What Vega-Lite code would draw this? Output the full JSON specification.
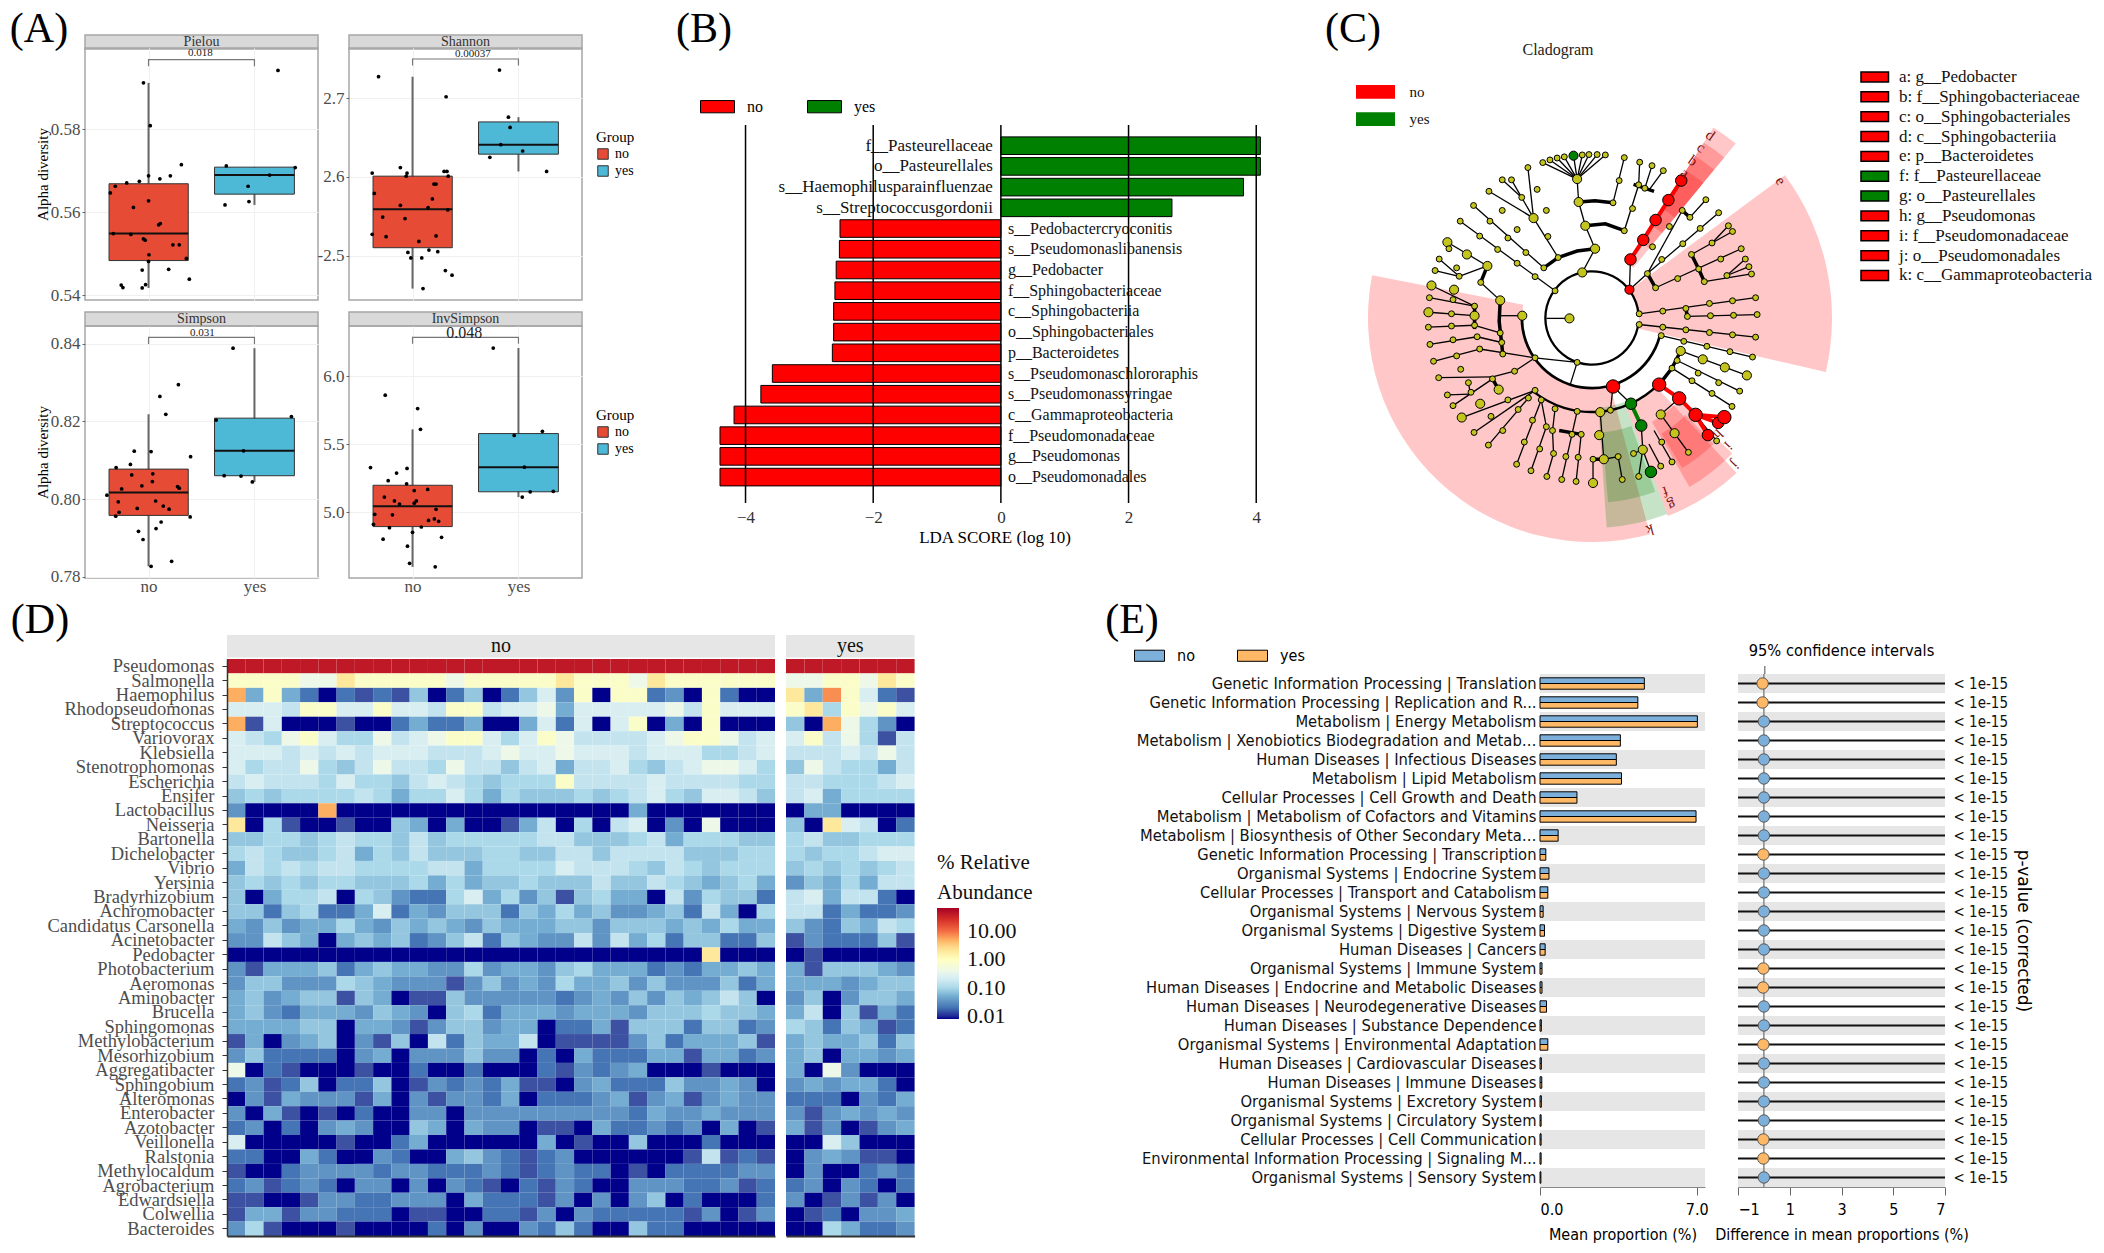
{"$schema":"https://vega.github.io/schema/vega-lite/v6.json","autosize":"none","padding":{"left":0,"top":0,"right":2104,"bottom":1253},"background":"white","config":{"font":"Liberation Serif","view":{"stroke":null},"axis":{"grid":false}},
"datasets":{
"box":[{"f":"Pielou","g":"no","c":1,"xl":0.627,"xr":1.375,"lo":0.5418,"q1":0.5484,"med":0.5549,"q3":0.5669,"hi":0.5912},{"f":"Pielou","g":"yes","c":2,"xl":1.623,"xr":2.377,"lo":0.5618,"q1":0.5644,"med":0.569,"q3":0.5709,"hi":0.5709},
{"f":"Shannon","g":"no","c":1,"xl":0.627,"xr":1.375,"lo":2.458,"q1":2.51,"med":2.559,"q3":2.601,"hi":2.7275},{"f":"Shannon","g":"yes","c":2,"xl":1.623,"xr":2.377,"lo":2.607,"q1":2.629,"med":2.641,"q3":2.67,"hi":2.676},
{"f":"Simpson","g":"no","c":1,"xl":0.627,"xr":1.375,"lo":0.7827,"q1":0.7958,"med":0.8017,"q3":0.8077,"hi":0.8218},{"f":"Simpson","g":"yes","c":2,"xl":1.623,"xr":2.377,"lo":0.8044,"q1":0.806,"med":0.8124,"q3":0.8208,"hi":0.8388},
{"f":"InvSimpson","g":"no","c":1,"xl":0.627,"xr":1.375,"lo":4.597,"q1":4.893,"med":5.042,"q3":5.197,"hi":5.608},{"f":"InvSimpson","g":"yes","c":2,"xl":1.623,"xr":2.377,"lo":5.11,"q1":5.149,"med":5.33,"q3":5.577,"hi":6.206}],
"pts":[{"f":"Pielou","x":0.952,"v":0.5912},{"f":"Pielou","x":1.016,"v":0.5809},{"f":"Pielou","x":1.31,"v":0.5715},{"f":"Pielou","x":1.206,"v":0.5688},{"f":"Pielou","x":1.0,"v":0.5688},{"f":"Pielou","x":1.107,"v":0.5681},{"f":"Pielou","x":0.913,"v":0.5675},{"f":"Pielou","x":0.794,"v":0.5671},{"f":"Pielou","x":0.686,"v":0.5663},{"f":"Pielou","x":0.639,"v":0.5647},{"f":"Pielou","x":1.0,"v":0.5628},{"f":"Pielou","x":0.857,"v":0.5612},{"f":"Pielou","x":1.111,"v":0.5573},{"f":"Pielou","x":1.095,"v":0.557},{"f":"Pielou","x":0.667,"v":0.5549},{"f":"Pielou","x":0.833,"v":0.5547},{"f":"Pielou","x":0.952,"v":0.5536},{"f":"Pielou","x":0.968,"v":0.5533},{"f":"Pielou","x":1.23,"v":0.5522},{"f":"Pielou","x":1.29,"v":0.5522},{"f":"Pielou","x":1.004,"v":0.5498},{"f":"Pielou","x":1.357,"v":0.5489},{"f":"Pielou","x":1.0,"v":0.5482},{"f":"Pielou","x":0.94,"v":0.5461},{"f":"Pielou","x":1.19,"v":0.5463},{"f":"Pielou","x":1.385,"v":0.5439},{"f":"Pielou","x":0.972,"v":0.5426},{"f":"Pielou","x":0.742,"v":0.5425},{"f":"Pielou","x":0.758,"v":0.5419},{"f":"Pielou","x":0.94,"v":0.5418},{"f":"Pielou","x":2.222,"v":0.5942},{"f":"Pielou","x":1.734,"v":0.5712},{"f":"Pielou","x":2.385,"v":0.5708},{"f":"Pielou","x":2.143,"v":0.569},{"f":"Pielou","x":1.94,"v":0.5663},{"f":"Pielou","x":1.722,"v":0.5618},{"f":"Pielou","x":1.948,"v":0.5626},
{"f":"Shannon","x":0.679,"v":2.7275},{"f":"Shannon","x":1.317,"v":2.702},{"f":"Shannon","x":0.619,"v":2.605},{"f":"Shannon","x":0.885,"v":2.612},{"f":"Shannon","x":0.948,"v":2.605},{"f":"Shannon","x":0.94,"v":2.601},{"f":"Shannon","x":1.298,"v":2.607},{"f":"Shannon","x":1.325,"v":2.607},{"f":"Shannon","x":1.337,"v":2.601},{"f":"Shannon","x":1.202,"v":2.591},{"f":"Shannon","x":1.222,"v":2.591},{"f":"Shannon","x":0.639,"v":2.579},{"f":"Shannon","x":1.187,"v":2.572},{"f":"Shannon","x":0.885,"v":2.564},{"f":"Shannon","x":1.147,"v":2.561},{"f":"Shannon","x":1.333,"v":2.558},{"f":"Shannon","x":0.718,"v":2.549},{"f":"Shannon","x":0.929,"v":2.547},{"f":"Shannon","x":0.619,"v":2.527},{"f":"Shannon","x":0.75,"v":2.524},{"f":"Shannon","x":1.222,"v":2.525},{"f":"Shannon","x":1.06,"v":2.518},{"f":"Shannon","x":0.956,"v":2.504},{"f":"Shannon","x":1.155,"v":2.507},{"f":"Shannon","x":1.238,"v":2.505},{"f":"Shannon","x":0.984,"v":2.497},{"f":"Shannon","x":1.087,"v":2.497},{"f":"Shannon","x":1.31,"v":2.481},{"f":"Shannon","x":1.373,"v":2.475},{"f":"Shannon","x":1.099,"v":2.458},{"f":"Shannon","x":1.821,"v":2.736},{"f":"Shannon","x":1.905,"v":2.676},{"f":"Shannon","x":1.921,"v":2.663},{"f":"Shannon","x":1.833,"v":2.641},{"f":"Shannon","x":2.04,"v":2.633},{"f":"Shannon","x":1.73,"v":2.625},{"f":"Shannon","x":2.266,"v":2.607},
{"f":"Simpson","x":1.282,"v":0.8294},{"f":"Simpson","x":1.107,"v":0.8264},{"f":"Simpson","x":1.163,"v":0.8218},{"f":"Simpson","x":0.865,"v":0.8123},{"f":"Simpson","x":1.024,"v":0.8122},{"f":"Simpson","x":1.397,"v":0.8109},{"f":"Simpson","x":0.829,"v":0.8089},{"f":"Simpson","x":0.694,"v":0.8081},{"f":"Simpson","x":0.841,"v":0.8062},{"f":"Simpson","x":1.04,"v":0.8065},{"f":"Simpson","x":1.036,"v":0.8045},{"f":"Simpson","x":0.937,"v":0.8034},{"f":"Simpson","x":1.274,"v":0.8032},{"f":"Simpson","x":1.29,"v":0.8028},{"f":"Simpson","x":0.746,"v":0.8026},{"f":"Simpson","x":0.607,"v":0.801},{"f":"Simpson","x":0.714,"v":0.7993},{"f":"Simpson","x":1.067,"v":0.7995},{"f":"Simpson","x":1.139,"v":0.7982},{"f":"Simpson","x":1.194,"v":0.7974},{"f":"Simpson","x":0.893,"v":0.7976},{"f":"Simpson","x":0.722,"v":0.7966},{"f":"Simpson","x":0.69,"v":0.7956},{"f":"Simpson","x":1.393,"v":0.7954},{"f":"Simpson","x":1.119,"v":0.7941},{"f":"Simpson","x":1.071,"v":0.7924},{"f":"Simpson","x":0.905,"v":0.7917},{"f":"Simpson","x":0.948,"v":0.7896},{"f":"Simpson","x":1.218,"v":0.784},{"f":"Simpson","x":1.024,"v":0.7827},{"f":"Simpson","x":1.798,"v":0.8388},{"f":"Simpson","x":2.349,"v":0.8212},{"f":"Simpson","x":1.639,"v":0.8203},{"f":"Simpson","x":1.897,"v":0.8124},{"f":"Simpson","x":1.714,"v":0.806},{"f":"Simpson","x":1.873,"v":0.8059},{"f":"Simpson","x":1.98,"v":0.8044},
{"f":"InvSimpson","x":0.742,"v":5.859},{"f":"InvSimpson","x":1.048,"v":5.761},{"f":"InvSimpson","x":1.075,"v":5.608},{"f":"InvSimpson","x":0.603,"v":5.327},{"f":"InvSimpson","x":0.948,"v":5.321},{"f":"InvSimpson","x":0.849,"v":5.287},{"f":"InvSimpson","x":0.77,"v":5.231},{"f":"InvSimpson","x":0.944,"v":5.208},{"f":"InvSimpson","x":1.016,"v":5.158},{"f":"InvSimpson","x":1.143,"v":5.166},{"f":"InvSimpson","x":0.734,"v":5.11},{"f":"InvSimpson","x":1.036,"v":5.082},{"f":"InvSimpson","x":1.016,"v":5.065},{"f":"InvSimpson","x":0.829,"v":5.082},{"f":"InvSimpson","x":0.877,"v":5.059},{"f":"InvSimpson","x":1.222,"v":5.02},{"f":"InvSimpson","x":0.81,"v":4.98},{"f":"InvSimpson","x":0.643,"v":4.983},{"f":"InvSimpson","x":0.631,"v":4.91},{"f":"InvSimpson","x":1.206,"v":4.949},{"f":"InvSimpson","x":1.151,"v":4.938},{"f":"InvSimpson","x":1.246,"v":4.932},{"f":"InvSimpson","x":1.083,"v":4.89},{"f":"InvSimpson","x":0.782,"v":4.885},{"f":"InvSimpson","x":1.0,"v":4.851},{"f":"InvSimpson","x":1.274,"v":4.814},{"f":"InvSimpson","x":0.722,"v":4.8},{"f":"InvSimpson","x":0.952,"v":4.749},{"f":"InvSimpson","x":0.972,"v":4.623},{"f":"InvSimpson","x":1.214,"v":4.597},{"f":"InvSimpson","x":1.762,"v":6.206},{"f":"InvSimpson","x":2.226,"v":5.594},{"f":"InvSimpson","x":1.96,"v":5.563},{"f":"InvSimpson","x":2.056,"v":5.33},{"f":"InvSimpson","x":2.329,"v":5.152},{"f":"InvSimpson","x":2.111,"v":5.149},{"f":"InvSimpson","x":2.036,"v":5.11}],
"brk":[{"f":"Pielou","o":1,"x":1,"v":0.5952},{"f":"Pielou","o":2,"x":1,"v":0.5968},{"f":"Pielou","o":3,"x":2,"v":0.5968},{"f":"Pielou","o":4,"x":2,"v":0.5952},{"f":"Shannon","o":1,"x":1,"v":2.7416},{"f":"Shannon","o":2,"x":1,"v":2.75},{"f":"Shannon","o":3,"x":2,"v":2.75},{"f":"Shannon","o":4,"x":2,"v":2.7416},{"f":"Simpson","o":1,"x":1,"v":0.8399},{"f":"Simpson","o":2,"x":1,"v":0.8416},{"f":"Simpson","o":3,"x":2,"v":0.8416},{"f":"Simpson","o":4,"x":2,"v":0.8399},{"f":"InvSimpson","o":1,"x":1,"v":6.237},{"f":"InvSimpson","o":2,"x":1,"v":6.285},{"f":"InvSimpson","o":3,"x":2,"v":6.285},{"f":"InvSimpson","o":4,"x":2,"v":6.237}],
"pv":[{"f":"Pielou","x":1.49,"v":0.5983,"p":"0.018"},{"f":"Shannon","x":1.57,"v":2.756,"p":"0.00037"},{"f":"Simpson","x":1.508,"v":0.8426,"p":"0.031"},{"f":"InvSimpson","x":1.488,"v":6.318,"p":"0.048"}],
"lda":[{"n":"f__Pasteurellaceae","v":4.065,"g":"yes"},{"n":"o__Pasteurellales","v":4.065,"g":"yes"},{"n":"s__Haemophilusparainfluenzae","v":3.8,"g":"yes"},{"n":"s__Streptococcusgordonii","v":2.68,"g":"yes"},{"n":"s__Pedobactercryoconitis","v":-2.52,"g":"no"},{"n":"s__Pseudomonaslibanensis","v":-2.53,"g":"no"},{"n":"g__Pedobacter","v":-2.58,"g":"no"},{"n":"f__Sphingobacteriaceae","v":-2.6,"g":"no"},{"n":"c__Sphingobacteriia","v":-2.62,"g":"no"},{"n":"o__Sphingobacteriales","v":-2.62,"g":"no"},{"n":"p__Bacteroidetes","v":-2.64,"g":"no"},{"n":"s__Pseudomonaschlororaphis","v":-3.58,"g":"no"},{"n":"s__Pseudomonassyringae","v":-3.76,"g":"no"},{"n":"c__Gammaproteobacteria","v":-4.18,"g":"no"},{"n":"f__Pseudomonadaceae","v":-4.4,"g":"no"},{"n":"g__Pseudomonas","v":-4.4,"g":"no"},{"n":"o__Pseudomonadales","v":-4.4,"g":"no"}],
"sect":[{"t1":165,"t2":281,"r1":70,"r2":224,"g":"no"},{"t1":53.5,"t2":103,"r1":47,"r2":240,"g":"no"},{"t1":137,"t2":159,"r1":95,"r2":212,"g":"no"},{"t1":134,"t2":150,"r1":120,"r2":195,"g":"no"},{"t1":136,"t2":149,"r1":135,"r2":175,"g":"no"},{"t1":32.5,"t2":39.5,"r1":65,"r2":226,"g":"no"},{"t1":32.5,"t2":39.5,"r1":90,"r2":208,"g":"no"},{"t1":32.5,"t2":39.5,"r1":110,"r2":192,"g":"no"},{"t1":32.5,"t2":39.5,"r1":130,"r2":175,"g":"no"},{"t1":159,"t2":176,"r1":90,"r2":210,"g":"yes"},{"t1":160,"t2":175,"r1":115,"r2":185,"g":"yes"}],
"rings":[{"t1":95,"t2":445,"r1":45.5,"r2":47.8},{"t1":105,"t2":272,"r1":68.8,"r2":71.5},{"t1":135,"t2":218,"r1":92.8,"r2":95.2}],
"thick":[{"b":1,"x":475,"y":700},{"b":1,"x":503,"y":673},{"b":1,"x":540,"y":656},{"b":1,"x":575,"y":650},{"b":2,"x":543,"y":528},{"b":2,"x":575,"y":525},{"b":2,"x":610,"y":530},{"b":3,"x":556,"y":590},{"b":3,"x":595,"y":585},{"b":3,"x":632,"y":603},{"b":4,"x":650,"y":482},{"b":4,"x":690,"y":500},{"b":5,"x":745,"y":550},{"b":5,"x":760,"y":568},{"b":6,"x":677,"y":715},{"b":6,"x":693,"y":752},{"b":7,"x":763,"y":665},{"b":7,"x":777,"y":703},{"b":7,"x":788,"y":736},{"b":8,"x":752,"y":806},{"b":8,"x":755,"y":827},{"b":9,"x":700,"y":1005},{"b":9,"x":725,"y":962},{"b":9,"x":742,"y":917},{"b":10,"x":571,"y":1200},{"b":10,"x":592,"y":1200},{"b":11,"x":505,"y":1125},{"b":11,"x":548,"y":1135},{"b":12,"x":375,"y":990},{"b":12,"x":387,"y":1018},{"b":13,"x":340,"y":800},{"b":13,"x":340,"y":825},{"b":13,"x":340,"y":860},{"b":14,"x":390,"y":785},{"b":14,"x":388,"y":840},{"b":14,"x":393,"y":900},{"b":14,"x":395,"y":925},{"b":15,"x":352,"y":738},{"b":15,"x":365,"y":695}],
"chain":[{"b":1,"x":644,"y":678,"g":"no"},{"b":1,"x":669,"y":627,"g":"no"},{"b":1,"x":693,"y":575,"g":"no"},{"b":1,"x":718,"y":523,"g":"no"},{"b":1,"x":743,"y":472,"g":"no"},{"b":2,"x":700,"y":1005,"g":"no"},{"b":2,"x":739,"y":1041,"g":"no"},{"b":2,"x":771,"y":1084,"g":"no"},{"b":2,"x":795,"y":1137,"g":"no"},{"b":3,"x":771,"y":1084,"g":"no"},{"b":3,"x":815,"y":1105,"g":"no"},{"b":4,"x":771,"y":1084,"g":"no"},{"b":4,"x":827,"y":1090,"g":"no"},{"b":5,"x":645,"y":1055,"g":"yes"},{"b":5,"x":665,"y":1112,"g":"yes"}],
"nodes":[{"x":550,"y":712,"a":2,"g":"o"},{"x":575,"y":650,"a":2,"g":"o"},{"x":556,"y":590,"a":2,"g":"o"},{"x":543,"y":528,"a":2,"g":"o"},{"x":540,"y":468,"a":2,"g":"o"},{"x":473,"y":425,"a":1,"g":"o"},{"x":487,"y":418,"a":1,"g":"o"},{"x":501,"y":413,"a":1,"g":"o"},{"x":515,"y":410,"a":1,"g":"o"},{"x":533,"y":407,"a":2,"g":"yes"},{"x":550,"y":405,"a":1,"g":"o"},{"x":563,"y":404,"a":1,"g":"o"},{"x":579,"y":404,"a":1,"g":"o"},{"x":595,"y":405,"a":1,"g":"o"},{"x":610,"y":530,"a":1,"g":"o"},{"x":622,"y":472,"a":1,"g":"o"},{"x":632,"y":412,"a":1,"g":"o"},{"x":632,"y":603,"a":1,"g":"o"},{"x":648,"y":545,"a":1,"g":"o"},{"x":660,"y":483,"a":1,"g":"o"},{"x":662,"y":424,"a":1,"g":"o"},{"x":672,"y":492,"a":1,"g":"o"},{"x":686,"y":433,"a":1,"g":"o"},{"x":708,"y":446,"a":1,"g":"o"},{"x":644,"y":678,"a":3,"g":"no"},{"x":669,"y":627,"a":3,"g":"no"},{"x":693,"y":575,"a":3,"g":"no"},{"x":718,"y":523,"a":3,"g":"no"},{"x":743,"y":472,"a":3,"g":"no"},{"x":677,"y":715,"a":1,"g":"o"},{"x":687,"y":645,"a":1,"g":"o"},{"x":720,"y":592,"a":1,"g":"o"},{"x":745,"y":550,"a":1,"g":"o"},{"x":760,"y":568,"a":1,"g":"o"},{"x":791,"y":522,"a":1,"g":"o"},{"x":705,"y":678,"a":1,"g":"o"},{"x":746,"y":637,"a":1,"g":"o"},{"x":780,"y":597,"a":1,"g":"o"},{"x":816,"y":556,"a":1,"g":"o"},{"x":693,"y":752,"a":1,"g":"o"},{"x":736,"y":728,"a":1,"g":"o"},{"x":777,"y":703,"a":1,"g":"o"},{"x":820,"y":677,"a":1,"g":"o"},{"x":860,"y":650,"a":1,"g":"o"},{"x":788,"y":736,"a":1,"g":"o"},{"x":832,"y":720,"a":1,"g":"o"},{"x":880,"y":716,"a":1,"g":"o"},{"x":868,"y":677,"a":1,"g":"o"},{"x":875,"y":697,"a":1,"g":"o"},{"x":763,"y":665,"a":1,"g":"o"},{"x":803,"y":635,"a":1,"g":"o"},{"x":843,"y":605,"a":1,"g":"o"},{"x":835,"y":590,"a":1,"g":"o"},{"x":661,"y":820,"a":1,"g":"o"},{"x":707,"y":813,"a":1,"g":"o"},{"x":752,"y":806,"a":1,"g":"o"},{"x":798,"y":793,"a":1,"g":"o"},{"x":843,"y":786,"a":1,"g":"o"},{"x":888,"y":778,"a":1,"g":"o"},{"x":755,"y":827,"a":1,"g":"o"},{"x":800,"y":825,"a":1,"g":"o"},{"x":845,"y":824,"a":1,"g":"o"},{"x":891,"y":822,"a":1,"g":"o"},{"x":661,"y":848,"a":1,"g":"o"},{"x":707,"y":855,"a":1,"g":"o"},{"x":752,"y":862,"a":1,"g":"o"},{"x":798,"y":869,"a":1,"g":"o"},{"x":843,"y":875,"a":1,"g":"o"},{"x":888,"y":881,"a":1,"g":"o"},{"x":704,"y":877,"a":1,"g":"o"},{"x":748,"y":892,"a":1,"g":"o"},{"x":793,"y":905,"a":1,"g":"o"},{"x":838,"y":919,"a":1,"g":"o"},{"x":882,"y":933,"a":1,"g":"o"},{"x":742,"y":917,"a":2,"g":"o"},{"x":785,"y":939,"a":2,"g":"o"},{"x":828,"y":960,"a":2,"g":"o"},{"x":871,"y":981,"a":2,"g":"o"},{"x":725,"y":962,"a":1,"g":"o"},{"x":735,"y":942,"a":1,"g":"o"},{"x":776,"y":975,"a":1,"g":"o"},{"x":816,"y":1000,"a":1,"g":"o"},{"x":857,"y":1022,"a":1,"g":"o"},{"x":764,"y":995,"a":1,"g":"o"},{"x":803,"y":1028,"a":1,"g":"o"},{"x":842,"y":1062,"a":1,"g":"o"},{"x":610,"y":1010,"a":4,"g":"no"},{"x":700,"y":1005,"a":4,"g":"no"},{"x":739,"y":1041,"a":4,"g":"no"},{"x":771,"y":1084,"a":4,"g":"no"},{"x":812,"y":1152,"a":1,"g":"o"},{"x":795,"y":1137,"a":3,"g":"no"},{"x":815,"y":1105,"a":3,"g":"no"},{"x":827,"y":1090,"a":4,"g":"no"},{"x":703,"y":1083,"a":2,"g":"o"},{"x":730,"y":1132,"a":2,"g":"o"},{"x":757,"y":1182,"a":1,"g":"o"},{"x":645,"y":1055,"a":3,"g":"yes"},{"x":665,"y":1112,"a":3,"g":"yes"},{"x":668,"y":1175,"a":2,"g":"o"},{"x":684,"y":1233,"a":3,"g":"yes"},{"x":650,"y":1185,"a":1,"g":"o"},{"x":660,"y":1245,"a":1,"g":"o"},{"x":705,"y":1155,"a":1,"g":"o"},{"x":725,"y":1207,"a":1,"g":"o"},{"x":703,"y":1218,"a":1,"g":"o"},{"x":605,"y":1072,"a":1,"g":"o"},{"x":585,"y":1077,"a":2,"g":"o"},{"x":583,"y":1137,"a":2,"g":"o"},{"x":592,"y":1200,"a":2,"g":"o"},{"x":571,"y":1200,"a":1,"g":"o"},{"x":571,"y":1262,"a":2,"g":"o"},{"x":620,"y":1193,"a":1,"g":"o"},{"x":628,"y":1253,"a":1,"g":"o"},{"x":540,"y":1075,"a":1,"g":"o"},{"x":530,"y":1135,"a":1,"g":"o"},{"x":518,"y":1193,"a":1,"g":"o"},{"x":510,"y":1253,"a":1,"g":"o"},{"x":548,"y":1135,"a":1,"g":"o"},{"x":542,"y":1195,"a":1,"g":"o"},{"x":538,"y":1258,"a":1,"g":"o"},{"x":497,"y":1068,"a":1,"g":"o"},{"x":492,"y":1125,"a":1,"g":"o"},{"x":494,"y":1185,"a":1,"g":"o"},{"x":481,"y":1245,"a":1,"g":"o"},{"x":470,"y":1045,"a":1,"g":"o"},{"x":480,"y":1115,"a":1,"g":"o"},{"x":467,"y":1173,"a":1,"g":"o"},{"x":450,"y":1230,"a":1,"g":"o"},{"x":453,"y":1098,"a":1,"g":"o"},{"x":437,"y":1155,"a":1,"g":"o"},{"x":422,"y":1213,"a":1,"g":"o"},{"x":445,"y":1040,"a":1,"g":"o"},{"x":425,"y":1070,"a":1,"g":"o"},{"x":395,"y":1125,"a":1,"g":"o"},{"x":367,"y":1163,"a":1,"g":"o"},{"x":458,"y":1020,"a":1,"g":"o"},{"x":405,"y":1045,"a":1,"g":"o"},{"x":372,"y":1088,"a":1,"g":"o"},{"x":339,"y":1130,"a":1,"g":"o"},{"x":387,"y":1018,"a":2,"g":"o"},{"x":351,"y":1055,"a":2,"g":"o"},{"x":315,"y":1091,"a":2,"g":"o"},{"x":375,"y":990,"a":1,"g":"o"},{"x":333,"y":1025,"a":1,"g":"o"},{"x":298,"y":1060,"a":1,"g":"o"},{"x":328,"y":1000,"a":1,"g":"o"},{"x":287,"y":1032,"a":1,"g":"o"},{"x":458,"y":935,"a":1,"g":"o"},{"x":418,"y":970,"a":1,"g":"o"},{"x":313,"y":965,"a":1,"g":"o"},{"x":270,"y":987,"a":1,"g":"o"},{"x":395,"y":925,"a":1,"g":"o"},{"x":350,"y":912,"a":1,"g":"o"},{"x":305,"y":930,"a":1,"g":"o"},{"x":260,"y":944,"a":1,"g":"o"},{"x":393,"y":895,"a":1,"g":"o"},{"x":345,"y":880,"a":1,"g":"o"},{"x":298,"y":888,"a":1,"g":"o"},{"x":253,"y":900,"a":1,"g":"o"},{"x":390,"y":870,"a":1,"g":"o"},{"x":340,"y":850,"a":1,"g":"o"},{"x":295,"y":852,"a":1,"g":"o"},{"x":250,"y":855,"a":1,"g":"o"},{"x":340,"y":825,"a":2,"g":"o"},{"x":295,"y":820,"a":1,"g":"o"},{"x":250,"y":816,"a":2,"g":"o"},{"x":340,"y":800,"a":1,"g":"o"},{"x":298,"y":783,"a":1,"g":"o"},{"x":252,"y":778,"a":1,"g":"o"},{"x":300,"y":757,"a":2,"g":"o"},{"x":256,"y":746,"a":2,"g":"o"},{"x":433,"y":825,"a":2,"g":"o"},{"x":390,"y":785,"a":2,"g":"o"},{"x":352,"y":738,"a":1,"g":"o"},{"x":365,"y":695,"a":2,"g":"o"},{"x":325,"y":665,"a":2,"g":"o"},{"x":287,"y":633,"a":2,"g":"o"},{"x":310,"y":722,"a":1,"g":"o"},{"x":263,"y":707,"a":1,"g":"o"},{"x":305,"y":700,"a":1,"g":"o"},{"x":271,"y":677,"a":1,"g":"o"},{"x":290,"y":650,"a":1,"g":"o"},{"x":525,"y":832,"a":2,"g":"o"},{"x":497,"y":760,"a":1,"g":"o"},{"x":458,"y":723,"a":1,"g":"o"},{"x":423,"y":688,"a":1,"g":"o"},{"x":385,"y":652,"a":1,"g":"o"},{"x":350,"y":617,"a":1,"g":"o"},{"x":312,"y":578,"a":1,"g":"o"},{"x":475,"y":700,"a":1,"g":"o"},{"x":440,"y":660,"a":1,"g":"o"},{"x":405,"y":622,"a":1,"g":"o"},{"x":370,"y":578,"a":1,"g":"o"},{"x":338,"y":537,"a":1,"g":"o"},{"x":503,"y":673,"a":1,"g":"o"},{"x":483,"y":618,"a":1,"g":"o"},{"x":455,"y":570,"a":2,"g":"o"},{"x":423,"y":600,"a":1,"g":"o"},{"x":394,"y":550,"a":1,"g":"o"},{"x":368,"y":500,"a":1,"g":"o"},{"x":480,"y":550,"a":1,"g":"o"},{"x":462,"y":495,"a":1,"g":"o"},{"x":444,"y":438,"a":1,"g":"o"},{"x":432,"y":516,"a":1,"g":"o"},{"x":412,"y":470,"a":1,"g":"o"},{"x":394,"y":470,"a":1,"g":"o"},{"x":540,"y":947,"a":1,"g":"o"},{"x":642,"y":757,"a":2,"g":"no"}],
"edges":[{"x":550,"y":712,"x2":575,"y2":650},{"x":575,"y":650,"x2":556,"y2":590},{"x":556,"y":590,"x2":543,"y2":528},{"x":543,"y":528,"x2":540,"y2":468},{"x":540,"y":468,"x2":473,"y2":425},{"x":540,"y":468,"x2":487,"y2":418},{"x":540,"y":468,"x2":501,"y2":413},{"x":540,"y":468,"x2":515,"y2":410},{"x":540,"y":468,"x2":533,"y2":407},{"x":540,"y":468,"x2":550,"y2":405},{"x":540,"y":468,"x2":563,"y2":404},{"x":540,"y":468,"x2":579,"y2":404},{"x":540,"y":468,"x2":595,"y2":405},{"x":610,"y":530,"x2":632,"y2":412},{"x":632,"y":603,"x2":660,"y2":483},{"x":660,"y":483,"x2":662,"y2":424},{"x":672,"y":492,"x2":686,"y2":433},{"x":680,"y":497,"x2":708,"y2":446},{"x":677,"y":715,"x2":745,"y2":550},{"x":760,"y":568,"x2":791,"y2":522},{"x":677,"y":715,"x2":816,"y2":556},{"x":693,"y":752,"x2":860,"y2":650},{"x":788,"y":736,"x2":880,"y2":716},{"x":832,"y":720,"x2":868,"y2":677},{"x":832,"y":720,"x2":875,"y2":697},{"x":763,"y":665,"x2":843,"y2":605},{"x":803,"y":635,"x2":835,"y2":590},{"x":661,"y":820,"x2":888,"y2":778},{"x":755,"y":827,"x2":891,"y2":822},{"x":661,"y":848,"x2":888,"y2":881},{"x":704,"y":877,"x2":882,"y2":933},{"x":742,"y":917,"x2":871,"y2":981},{"x":735,"y":942,"x2":857,"y2":1022},{"x":725,"y":962,"x2":842,"y2":1062},{"x":771,"y":1084,"x2":812,"y2":1152},{"x":739,"y":1041,"x2":703,"y2":1083},{"x":703,"y":1083,"x2":757,"y2":1182},{"x":610,"y":1010,"x2":645,"y2":1055},{"x":665,"y":1112,"x2":668,"y2":1175},{"x":668,"y":1175,"x2":684,"y2":1233},{"x":668,"y":1175,"x2":650,"y2":1185},{"x":668,"y":1175,"x2":660,"y2":1245},{"x":690,"y":1125,"x2":725,"y2":1207},{"x":680,"y":1160,"x2":703,"y2":1218},{"x":610,"y":1010,"x2":605,"y2":1072},{"x":585,"y":1077,"x2":592,"y2":1200},{"x":571,"y":1200,"x2":571,"y2":1262},{"x":592,"y":1200,"x2":620,"y2":1193},{"x":620,"y":1193,"x2":628,"y2":1253},{"x":540,"y":1075,"x2":510,"y2":1253},{"x":548,"y":1135,"x2":538,"y2":1258},{"x":497,"y":1068,"x2":492,"y2":1125},{"x":492,"y":1125,"x2":494,"y2":1185},{"x":494,"y":1185,"x2":481,"y2":1245},{"x":470,"y":1045,"x2":480,"y2":1115},{"x":480,"y":1115,"x2":450,"y2":1230},{"x":470,"y":1045,"x2":422,"y2":1213},{"x":445,"y":1040,"x2":367,"y2":1163},{"x":458,"y":1020,"x2":339,"y2":1130},{"x":458,"y":1020,"x2":315,"y2":1091},{"x":375,"y":990,"x2":298,"y2":1060},{"x":328,"y":1000,"x2":332,"y2":1030},{"x":332,"y":1030,"x2":287,"y2":1032},{"x":458,"y":935,"x2":418,"y2":970},{"x":418,"y":970,"x2":375,"y2":985},{"x":375,"y":985,"x2":270,"y2":987},{"x":458,"y":935,"x2":350,"y2":912},{"x":350,"y":912,"x2":260,"y2":944},{"x":393,"y":895,"x2":345,"y2":880},{"x":345,"y":880,"x2":253,"y2":900},{"x":390,"y":870,"x2":340,"y2":850},{"x":340,"y":850,"x2":250,"y2":855},{"x":340,"y":825,"x2":250,"y2":816},{"x":340,"y":800,"x2":252,"y2":778},{"x":340,"y":800,"x2":256,"y2":746},{"x":433,"y":825,"x2":390,"y2":825},{"x":390,"y":785,"x2":352,"y2":738},{"x":365,"y":695,"x2":287,"y2":633},{"x":365,"y":695,"x2":310,"y2":722},{"x":310,"y":722,"x2":263,"y2":707},{"x":310,"y":722,"x2":271,"y2":677},{"x":525,"y":832,"x2":480,"y2":832},{"x":497,"y":760,"x2":312,"y2":578},{"x":475,"y":700,"x2":338,"y2":537},{"x":503,"y":673,"x2":455,"y2":570},{"x":455,"y":570,"x2":368,"y2":500},{"x":455,"y":570,"x2":444,"y2":438},{"x":455,"y":570,"x2":412,"y2":470},{"x":432,"y":516,"x2":394,"y2":470},{"x":540,"y":947,"x2":527,"y2":1003},{"x":540,"y":947,"x2":458,"y2":935},{"x":642,"y":757,"x2":677,"y2":715},{"x":642,"y":757,"x2":644,"y2":678}],
"cl":[{"x":800,"y":353,"t":"d","rot":35},{"x":782,"y":385,"t":"c","rot":35},{"x":766,"y":420,"t":"b","rot":35},{"x":750,"y":452,"t":"a","rot":35},{"x":937,"y":472,"t":"e","rot":55},{"x":682,"y":1385,"t":"k","rot":165},{"x":725,"y":1320,"t":"g","rot":160},{"x":712,"y":1285,"t":"f","rot":160},{"x":835,"y":1165,"t":"i","rot":135},{"x":848,"y":1215,"t":"j","rot":135},{"x":815,"y":1135,"t":"h","rot":135}],
"legc":[{"l":"a: g__Pedobacter","g":"no"},{"l":"b: f__Sphingobacteriaceae","g":"no"},{"l":"c: o__Sphingobacteriales","g":"no"},{"l":"d: c__Sphingobacteriia","g":"no"},{"l":"e: p__Bacteroidetes","g":"no"},{"l":"f: f__Pasteurellaceae","g":"yes"},{"l":"g: o__Pasteurellales","g":"yes"},{"l":"h: g__Pseudomonas","g":"no"},{"l":"i: f__Pseudomonadaceae","g":"no"},{"l":"j: o__Pseudomonadales","g":"no"},{"l":"k: c__Gammaproteobacteria","g":"no"}],
"taxa":[{"r":0,"t":"Pseudomonas"},{"r":1,"t":"Salmonella"},{"r":2,"t":"Haemophilus"},{"r":3,"t":"Rhodopseudomonas"},{"r":4,"t":"Streptococcus"},{"r":5,"t":"Variovorax"},{"r":6,"t":"Klebsiella"},{"r":7,"t":"Stenotrophomonas"},{"r":8,"t":"Escherichia"},{"r":9,"t":"Ensifer"},{"r":10,"t":"Lactobacillus"},{"r":11,"t":"Neisseria"},{"r":12,"t":"Bartonella"},{"r":13,"t":"Dichelobacter"},{"r":14,"t":"Vibrio"},{"r":15,"t":"Yersinia"},{"r":16,"t":"Bradyrhizobium"},{"r":17,"t":"Achromobacter"},{"r":18,"t":"Candidatus Carsonella"},{"r":19,"t":"Acinetobacter"},{"r":20,"t":"Pedobacter"},{"r":21,"t":"Photobacterium"},{"r":22,"t":"Aeromonas"},{"r":23,"t":"Aminobacter"},{"r":24,"t":"Brucella"},{"r":25,"t":"Sphingomonas"},{"r":26,"t":"Methylobacterium"},{"r":27,"t":"Mesorhizobium"},{"r":28,"t":"Aggregatibacter"},{"r":29,"t":"Sphingobium"},{"r":30,"t":"Alteromonas"},{"r":31,"t":"Enterobacter"},{"r":32,"t":"Azotobacter"},{"r":33,"t":"Veillonella"},{"r":34,"t":"Ralstonia"},{"r":35,"t":"Methylocaldum"},{"r":36,"t":"Agrobacterium"},{"r":37,"t":"Edwardsiella"},{"r":38,"t":"Colwellia"},{"r":39,"t":"Bacteroides"}],
"hm":[
{"r":0,"c":0,"v":40},{"r":0,"c":1,"v":40},{"r":0,"c":2,"v":40},{"r":0,"c":3,"v":40},{"r":0,"c":4,"v":40},{"r":0,"c":5,"v":40},{"r":0,"c":6,"v":40},{"r":0,"c":7,"v":40},{"r":0,"c":8,"v":40},{"r":0,"c":9,"v":40},{"r":0,"c":10,"v":40},{"r":0,"c":11,"v":40},{"r":0,"c":12,"v":40},{"r":0,"c":13,"v":40},{"r":0,"c":14,"v":40},{"r":0,"c":15,"v":40},{"r":0,"c":16,"v":40},{"r":0,"c":17,"v":40},{"r":0,"c":18,"v":40},{"r":0,"c":19,"v":40},{"r":0,"c":20,"v":40},{"r":0,"c":21,"v":40},{"r":0,"c":22,"v":40},{"r":0,"c":23,"v":40},{"r":0,"c":24,"v":40},{"r":0,"c":25,"v":40},{"r":0,"c":26,"v":40},{"r":0,"c":27,"v":40},{"r":0,"c":28,"v":40},{"r":0,"c":29,"v":40},{"r":0,"c":30,"v":40},{"r":0,"c":31,"v":40},{"r":0,"c":32,"v":40},{"r":0,"c":33,"v":40},{"r":0,"c":34,"v":40},{"r":0,"c":35,"v":40},{"r":0,"c":36,"v":40},
{"r":1,"c":0,"v":0.8},{"r":1,"c":1,"v":0.8},{"r":1,"c":2,"v":0.8},{"r":1,"c":3,"v":0.8},{"r":1,"c":4,"v":0.4},{"r":1,"c":5,"v":0.4},{"r":1,"c":6,"v":2},{"r":1,"c":7,"v":0.8},{"r":1,"c":8,"v":0.8},{"r":1,"c":9,"v":0.8},{"r":1,"c":10,"v":0.8},{"r":1,"c":11,"v":0.8},{"r":1,"c":12,"v":0.4},{"r":1,"c":13,"v":0.8},{"r":1,"c":14,"v":0.8},{"r":1,"c":15,"v":0.8},{"r":1,"c":16,"v":0.8},{"r":1,"c":17,"v":0.8},{"r":1,"c":18,"v":2},{"r":1,"c":19,"v":0.8},{"r":1,"c":20,"v":0.8},{"r":1,"c":21,"v":0.8},{"r":1,"c":22,"v":0.4},{"r":1,"c":23,"v":2},{"r":1,"c":24,"v":0.8},{"r":1,"c":25,"v":0.8},{"r":1,"c":26,"v":0.8},{"r":1,"c":27,"v":0.8},{"r":1,"c":28,"v":0.8},{"r":1,"c":29,"v":0.8},{"r":1,"c":30,"v":0.4},{"r":1,"c":31,"v":0.4},{"r":1,"c":32,"v":0.8},{"r":1,"c":33,"v":0.8},{"r":1,"c":34,"v":0.4},{"r":1,"c":35,"v":2},{"r":1,"c":36,"v":0.8},
{"r":2,"c":0,"v":5},{"r":2,"c":1,"v":0.05},{"r":2,"c":2,"v":0.8},{"r":2,"c":3,"v":0.05},{"r":2,"c":4,"v":0.02},{"r":2,"c":5,"v":0.0078},{"r":2,"c":6,"v":0.02},{"r":2,"c":7,"v":0.013},{"r":2,"c":8,"v":0.02},{"r":2,"c":9,"v":0.013},{"r":2,"c":10,"v":0.075},{"r":2,"c":11,"v":0.0078},{"r":2,"c":12,"v":0.02},{"r":2,"c":13,"v":0.075},{"r":2,"c":14,"v":0.0078},{"r":2,"c":15,"v":0.02},{"r":2,"c":16,"v":0.075},{"r":2,"c":17,"v":0.22},{"r":2,"c":18,"v":0.033},{"r":2,"c":19,"v":0.8},{"r":2,"c":20,"v":0.0078},{"r":2,"c":21,"v":0.8},{"r":2,"c":22,"v":0.8},{"r":2,"c":23,"v":0.02},{"r":2,"c":24,"v":0.033},{"r":2,"c":25,"v":0.0078},{"r":2,"c":26,"v":0.8},{"r":2,"c":27,"v":0.02},{"r":2,"c":28,"v":0.0078},{"r":2,"c":29,"v":0.0078},{"r":2,"c":30,"v":2},{"r":2,"c":31,"v":0.05},{"r":2,"c":32,"v":7},{"r":2,"c":33,"v":0.8},{"r":2,"c":34,"v":0.22},{"r":2,"c":35,"v":0.02},{"r":2,"c":36,"v":0.013},
{"r":3,"c":0,"v":0.22},{"r":3,"c":1,"v":0.22},{"r":3,"c":2,"v":0.22},{"r":3,"c":3,"v":0.15},{"r":3,"c":4,"v":0.8},{"r":3,"c":5,"v":0.8},{"r":3,"c":6,"v":0.22},{"r":3,"c":7,"v":0.22},{"r":3,"c":8,"v":0.8},{"r":3,"c":9,"v":0.22},{"r":3,"c":10,"v":0.22},{"r":3,"c":11,"v":0.15},{"r":3,"c":12,"v":0.8},{"r":3,"c":13,"v":0.8},{"r":3,"c":14,"v":0.15},{"r":3,"c":15,"v":0.22},{"r":3,"c":16,"v":0.22},{"r":3,"c":17,"v":0.4},{"r":3,"c":18,"v":0.05},{"r":3,"c":19,"v":0.22},{"r":3,"c":20,"v":0.22},{"r":3,"c":21,"v":0.22},{"r":3,"c":22,"v":0.22},{"r":3,"c":23,"v":0.22},{"r":3,"c":24,"v":0.4},{"r":3,"c":25,"v":0.15},{"r":3,"c":26,"v":0.8},{"r":3,"c":27,"v":0.22},{"r":3,"c":28,"v":0.22},{"r":3,"c":29,"v":0.22},{"r":3,"c":30,"v":0.8},{"r":3,"c":31,"v":2},{"r":3,"c":32,"v":0.1},{"r":3,"c":33,"v":0.8},{"r":3,"c":34,"v":0.4},{"r":3,"c":35,"v":0.8},{"r":3,"c":36,"v":0.22},
{"r":4,"c":0,"v":5},{"r":4,"c":1,"v":0.013},{"r":4,"c":2,"v":0.22},{"r":4,"c":3,"v":0.0078},{"r":4,"c":4,"v":0.0078},{"r":4,"c":5,"v":0.0078},{"r":4,"c":6,"v":0.013},{"r":4,"c":7,"v":0.0078},{"r":4,"c":8,"v":0.0078},{"r":4,"c":9,"v":0.02},{"r":4,"c":10,"v":0.05},{"r":4,"c":11,"v":0.02},{"r":4,"c":12,"v":0.02},{"r":4,"c":13,"v":0.05},{"r":4,"c":14,"v":0.0078},{"r":4,"c":15,"v":0.0078},{"r":4,"c":16,"v":0.05},{"r":4,"c":17,"v":0.22},{"r":4,"c":18,"v":0.02},{"r":4,"c":19,"v":0.22},{"r":4,"c":20,"v":0.0078},{"r":4,"c":21,"v":0.22},{"r":4,"c":22,"v":0.8},{"r":4,"c":23,"v":0.0078},{"r":4,"c":24,"v":0.05},{"r":4,"c":25,"v":0.0078},{"r":4,"c":26,"v":0.8},{"r":4,"c":27,"v":0.0078},{"r":4,"c":28,"v":0.0078},{"r":4,"c":29,"v":0.0078},{"r":4,"c":30,"v":0.075},{"r":4,"c":31,"v":0.0078},{"r":4,"c":32,"v":5},{"r":4,"c":33,"v":0.4},{"r":4,"c":34,"v":0.1},{"r":4,"c":35,"v":0.033},{"r":4,"c":36,"v":0.0078},
{"r":5,"c":0,"v":0.22},{"r":5,"c":1,"v":0.15},{"r":5,"c":2,"v":0.1},{"r":5,"c":3,"v":0.4},{"r":5,"c":4,"v":0.8},{"r":5,"c":5,"v":0.22},{"r":5,"c":6,"v":0.1},{"r":5,"c":7,"v":0.1},{"r":5,"c":8,"v":0.4},{"r":5,"c":9,"v":0.15},{"r":5,"c":10,"v":0.22},{"r":5,"c":11,"v":0.4},{"r":5,"c":12,"v":0.8},{"r":5,"c":13,"v":0.8},{"r":5,"c":14,"v":0.22},{"r":5,"c":15,"v":0.1},{"r":5,"c":16,"v":0.22},{"r":5,"c":17,"v":0.8},{"r":5,"c":18,"v":0.4},{"r":5,"c":19,"v":0.15},{"r":5,"c":20,"v":0.15},{"r":5,"c":21,"v":0.15},{"r":5,"c":22,"v":0.15},{"r":5,"c":23,"v":0.22},{"r":5,"c":24,"v":0.4},{"r":5,"c":25,"v":0.8},{"r":5,"c":26,"v":0.8},{"r":5,"c":27,"v":0.4},{"r":5,"c":28,"v":0.15},{"r":5,"c":29,"v":0.22},{"r":5,"c":30,"v":0.22},{"r":5,"c":31,"v":0.8},{"r":5,"c":32,"v":0.15},{"r":5,"c":33,"v":0.4},{"r":5,"c":34,"v":0.1},{"r":5,"c":35,"v":0.013},{"r":5,"c":36,"v":0.15},
{"r":6,"c":0,"v":0.22},{"r":6,"c":1,"v":0.22},{"r":6,"c":2,"v":0.22},{"r":6,"c":3,"v":0.15},{"r":6,"c":4,"v":0.22},{"r":6,"c":5,"v":0.15},{"r":6,"c":6,"v":0.22},{"r":6,"c":7,"v":0.15},{"r":6,"c":8,"v":0.22},{"r":6,"c":9,"v":0.22},{"r":6,"c":10,"v":0.22},{"r":6,"c":11,"v":0.15},{"r":6,"c":12,"v":0.15},{"r":6,"c":13,"v":0.15},{"r":6,"c":14,"v":0.22},{"r":6,"c":15,"v":0.4},{"r":6,"c":16,"v":0.22},{"r":6,"c":17,"v":0.22},{"r":6,"c":18,"v":0.4},{"r":6,"c":19,"v":0.22},{"r":6,"c":20,"v":0.22},{"r":6,"c":21,"v":0.22},{"r":6,"c":22,"v":0.15},{"r":6,"c":23,"v":0.22},{"r":6,"c":24,"v":0.22},{"r":6,"c":25,"v":0.22},{"r":6,"c":26,"v":0.1},{"r":6,"c":27,"v":0.1},{"r":6,"c":28,"v":0.15},{"r":6,"c":29,"v":0.22},{"r":6,"c":30,"v":0.15},{"r":6,"c":31,"v":0.15},{"r":6,"c":32,"v":0.15},{"r":6,"c":33,"v":0.22},{"r":6,"c":34,"v":0.15},{"r":6,"c":35,"v":0.4},{"r":6,"c":36,"v":0.15},
{"r":7,"c":0,"v":0.22},{"r":7,"c":1,"v":0.1},{"r":7,"c":2,"v":0.15},{"r":7,"c":3,"v":0.15},{"r":7,"c":4,"v":0.4},{"r":7,"c":5,"v":0.1},{"r":7,"c":6,"v":0.075},{"r":7,"c":7,"v":0.15},{"r":7,"c":8,"v":0.4},{"r":7,"c":9,"v":0.15},{"r":7,"c":10,"v":0.15},{"r":7,"c":11,"v":0.1},{"r":7,"c":12,"v":0.4},{"r":7,"c":13,"v":0.15},{"r":7,"c":14,"v":0.15},{"r":7,"c":15,"v":0.075},{"r":7,"c":16,"v":0.15},{"r":7,"c":17,"v":0.22},{"r":7,"c":18,"v":0.05},{"r":7,"c":19,"v":0.15},{"r":7,"c":20,"v":0.15},{"r":7,"c":21,"v":0.22},{"r":7,"c":22,"v":0.1},{"r":7,"c":23,"v":0.075},{"r":7,"c":24,"v":0.15},{"r":7,"c":25,"v":0.22},{"r":7,"c":26,"v":0.4},{"r":7,"c":27,"v":0.4},{"r":7,"c":28,"v":0.22},{"r":7,"c":29,"v":0.1},{"r":7,"c":30,"v":0.075},{"r":7,"c":31,"v":0.4},{"r":7,"c":32,"v":0.15},{"r":7,"c":33,"v":0.1},{"r":7,"c":34,"v":0.1},{"r":7,"c":35,"v":0.05},{"r":7,"c":36,"v":0.15},
{"r":8,"c":0,"v":0.15},{"r":8,"c":1,"v":0.22},{"r":8,"c":2,"v":0.15},{"r":8,"c":3,"v":0.15},{"r":8,"c":4,"v":0.15},{"r":8,"c":5,"v":0.1},{"r":8,"c":6,"v":0.22},{"r":8,"c":7,"v":0.1},{"r":8,"c":8,"v":0.1},{"r":8,"c":9,"v":0.075},{"r":8,"c":10,"v":0.15},{"r":8,"c":11,"v":0.22},{"r":8,"c":12,"v":0.15},{"r":8,"c":13,"v":0.1},{"r":8,"c":14,"v":0.075},{"r":8,"c":15,"v":0.1},{"r":8,"c":16,"v":0.1},{"r":8,"c":17,"v":0.1},{"r":8,"c":18,"v":0.8},{"r":8,"c":19,"v":0.15},{"r":8,"c":20,"v":0.15},{"r":8,"c":21,"v":0.15},{"r":8,"c":22,"v":0.15},{"r":8,"c":23,"v":0.22},{"r":8,"c":24,"v":0.15},{"r":8,"c":25,"v":0.15},{"r":8,"c":26,"v":0.15},{"r":8,"c":27,"v":0.15},{"r":8,"c":28,"v":0.1},{"r":8,"c":29,"v":0.1},{"r":8,"c":30,"v":0.15},{"r":8,"c":31,"v":0.15},{"r":8,"c":32,"v":0.1},{"r":8,"c":33,"v":0.1},{"r":8,"c":34,"v":0.1},{"r":8,"c":35,"v":0.15},{"r":8,"c":36,"v":0.22},
{"r":9,"c":0,"v":0.075},{"r":9,"c":1,"v":0.1},{"r":9,"c":2,"v":0.075},{"r":9,"c":3,"v":0.1},{"r":9,"c":4,"v":0.1},{"r":9,"c":5,"v":0.1},{"r":9,"c":6,"v":0.1},{"r":9,"c":7,"v":0.15},{"r":9,"c":8,"v":0.1},{"r":9,"c":9,"v":0.05},{"r":9,"c":10,"v":0.1},{"r":9,"c":11,"v":0.1},{"r":9,"c":12,"v":0.22},{"r":9,"c":13,"v":0.1},{"r":9,"c":14,"v":0.05},{"r":9,"c":15,"v":0.1},{"r":9,"c":16,"v":0.075},{"r":9,"c":17,"v":0.075},{"r":9,"c":18,"v":0.075},{"r":9,"c":19,"v":0.1},{"r":9,"c":20,"v":0.075},{"r":9,"c":21,"v":0.1},{"r":9,"c":22,"v":0.15},{"r":9,"c":23,"v":0.22},{"r":9,"c":24,"v":0.1},{"r":9,"c":25,"v":0.075},{"r":9,"c":26,"v":0.22},{"r":9,"c":27,"v":0.22},{"r":9,"c":28,"v":0.15},{"r":9,"c":29,"v":0.075},{"r":9,"c":30,"v":0.15},{"r":9,"c":31,"v":0.22},{"r":9,"c":32,"v":0.05},{"r":9,"c":33,"v":0.1},{"r":9,"c":34,"v":0.1},{"r":9,"c":35,"v":0.1},{"r":9,"c":36,"v":0.1},
{"r":10,"c":0,"v":0.033},{"r":10,"c":1,"v":0.0078},{"r":10,"c":2,"v":0.0078},{"r":10,"c":3,"v":0.0078},{"r":10,"c":4,"v":0.0078},{"r":10,"c":5,"v":5},{"r":10,"c":6,"v":0.0078},{"r":10,"c":7,"v":0.0078},{"r":10,"c":8,"v":0.0078},{"r":10,"c":9,"v":0.0078},{"r":10,"c":10,"v":0.0078},{"r":10,"c":11,"v":0.0078},{"r":10,"c":12,"v":0.0078},{"r":10,"c":13,"v":0.0078},{"r":10,"c":14,"v":0.0078},{"r":10,"c":15,"v":0.0078},{"r":10,"c":16,"v":0.0078},{"r":10,"c":17,"v":0.0078},{"r":10,"c":18,"v":0.0078},{"r":10,"c":19,"v":0.0078},{"r":10,"c":20,"v":0.0078},{"r":10,"c":21,"v":0.0078},{"r":10,"c":22,"v":0.05},{"r":10,"c":23,"v":0.0078},{"r":10,"c":24,"v":0.0078},{"r":10,"c":25,"v":0.0078},{"r":10,"c":26,"v":0.0078},{"r":10,"c":27,"v":0.0078},{"r":10,"c":28,"v":0.0078},{"r":10,"c":29,"v":0.0078},{"r":10,"c":30,"v":0.0078},{"r":10,"c":31,"v":0.05},{"r":10,"c":32,"v":0.05},{"r":10,"c":33,"v":0.0078},{"r":10,"c":34,"v":0.0078},{"r":10,"c":35,"v":0.0078},{"r":10,"c":36,"v":0.0078},
{"r":11,"c":0,"v":2},{"r":11,"c":1,"v":0.0078},{"r":11,"c":2,"v":0.1},{"r":11,"c":3,"v":0.013},{"r":11,"c":4,"v":0.0078},{"r":11,"c":5,"v":0.0078},{"r":11,"c":6,"v":0.013},{"r":11,"c":7,"v":0.0078},{"r":11,"c":8,"v":0.0078},{"r":11,"c":9,"v":0.075},{"r":11,"c":10,"v":0.05},{"r":11,"c":11,"v":0.0078},{"r":11,"c":12,"v":0.05},{"r":11,"c":13,"v":0.0078},{"r":11,"c":14,"v":0.0078},{"r":11,"c":15,"v":0.013},{"r":11,"c":16,"v":0.05},{"r":11,"c":17,"v":0.15},{"r":11,"c":18,"v":0.0078},{"r":11,"c":19,"v":0.1},{"r":11,"c":20,"v":0.0078},{"r":11,"c":21,"v":0.15},{"r":11,"c":22,"v":0.22},{"r":11,"c":23,"v":0.0078},{"r":11,"c":24,"v":0.033},{"r":11,"c":25,"v":0.0078},{"r":11,"c":26,"v":0.4},{"r":11,"c":27,"v":0.0078},{"r":11,"c":28,"v":0.0078},{"r":11,"c":29,"v":0.0078},{"r":11,"c":30,"v":0.075},{"r":11,"c":31,"v":0.0078},{"r":11,"c":32,"v":2},{"r":11,"c":33,"v":0.22},{"r":11,"c":34,"v":0.15},{"r":11,"c":35,"v":0.0078},{"r":11,"c":36,"v":0.02},
{"r":12,"c":0,"v":0.075},{"r":12,"c":1,"v":0.075},{"r":12,"c":2,"v":0.1},{"r":12,"c":3,"v":0.1},{"r":12,"c":4,"v":0.075},{"r":12,"c":5,"v":0.1},{"r":12,"c":6,"v":0.15},{"r":12,"c":7,"v":0.1},{"r":12,"c":8,"v":0.1},{"r":12,"c":9,"v":0.075},{"r":12,"c":10,"v":0.15},{"r":12,"c":11,"v":0.075},{"r":12,"c":12,"v":0.1},{"r":12,"c":13,"v":0.1},{"r":12,"c":14,"v":0.1},{"r":12,"c":15,"v":0.1},{"r":12,"c":16,"v":0.1},{"r":12,"c":17,"v":0.15},{"r":12,"c":18,"v":0.15},{"r":12,"c":19,"v":0.075},{"r":12,"c":20,"v":0.075},{"r":12,"c":21,"v":0.075},{"r":12,"c":22,"v":0.1},{"r":12,"c":23,"v":0.15},{"r":12,"c":24,"v":0.05},{"r":12,"c":25,"v":0.1},{"r":12,"c":26,"v":0.1},{"r":12,"c":27,"v":0.1},{"r":12,"c":28,"v":0.075},{"r":12,"c":29,"v":0.075},{"r":12,"c":30,"v":0.1},{"r":12,"c":31,"v":0.15},{"r":12,"c":32,"v":0.075},{"r":12,"c":33,"v":0.075},{"r":12,"c":34,"v":0.1},{"r":12,"c":35,"v":0.1},{"r":12,"c":36,"v":0.1},
{"r":13,"c":0,"v":0.1},{"r":13,"c":1,"v":0.15},{"r":13,"c":2,"v":0.1},{"r":13,"c":3,"v":0.075},{"r":13,"c":4,"v":0.075},{"r":13,"c":5,"v":0.1},{"r":13,"c":6,"v":0.15},{"r":13,"c":7,"v":0.05},{"r":13,"c":8,"v":0.1},{"r":13,"c":9,"v":0.075},{"r":13,"c":10,"v":0.15},{"r":13,"c":11,"v":0.075},{"r":13,"c":12,"v":0.075},{"r":13,"c":13,"v":0.075},{"r":13,"c":14,"v":0.1},{"r":13,"c":15,"v":0.1},{"r":13,"c":16,"v":0.075},{"r":13,"c":17,"v":0.075},{"r":13,"c":18,"v":0.15},{"r":13,"c":19,"v":0.15},{"r":13,"c":20,"v":0.075},{"r":13,"c":21,"v":0.15},{"r":13,"c":22,"v":0.15},{"r":13,"c":23,"v":0.15},{"r":13,"c":24,"v":0.15},{"r":13,"c":25,"v":0.075},{"r":13,"c":26,"v":0.075},{"r":13,"c":27,"v":0.075},{"r":13,"c":28,"v":0.1},{"r":13,"c":29,"v":0.1},{"r":13,"c":30,"v":0.1},{"r":13,"c":31,"v":0.075},{"r":13,"c":32,"v":0.1},{"r":13,"c":33,"v":0.1},{"r":13,"c":34,"v":0.15},{"r":13,"c":35,"v":0.22},{"r":13,"c":36,"v":0.22},
{"r":14,"c":0,"v":0.05},{"r":14,"c":1,"v":0.15},{"r":14,"c":2,"v":0.1},{"r":14,"c":3,"v":0.15},{"r":14,"c":4,"v":0.1},{"r":14,"c":5,"v":0.15},{"r":14,"c":6,"v":0.15},{"r":14,"c":7,"v":0.1},{"r":14,"c":8,"v":0.1},{"r":14,"c":9,"v":0.1},{"r":14,"c":10,"v":0.1},{"r":14,"c":11,"v":0.15},{"r":14,"c":12,"v":0.15},{"r":14,"c":13,"v":0.05},{"r":14,"c":14,"v":0.1},{"r":14,"c":15,"v":0.1},{"r":14,"c":16,"v":0.1},{"r":14,"c":17,"v":0.1},{"r":14,"c":18,"v":0.22},{"r":14,"c":19,"v":0.15},{"r":14,"c":20,"v":0.15},{"r":14,"c":21,"v":0.15},{"r":14,"c":22,"v":0.1},{"r":14,"c":23,"v":0.075},{"r":14,"c":24,"v":0.15},{"r":14,"c":25,"v":0.1},{"r":14,"c":26,"v":0.075},{"r":14,"c":27,"v":0.1},{"r":14,"c":28,"v":0.1},{"r":14,"c":29,"v":0.1},{"r":14,"c":30,"v":0.075},{"r":14,"c":31,"v":0.1},{"r":14,"c":32,"v":0.075},{"r":14,"c":33,"v":0.1},{"r":14,"c":34,"v":0.075},{"r":14,"c":35,"v":0.1},{"r":14,"c":36,"v":0.15},
{"r":15,"c":0,"v":0.075},{"r":15,"c":1,"v":0.1},{"r":15,"c":2,"v":0.075},{"r":15,"c":3,"v":0.1},{"r":15,"c":4,"v":0.075},{"r":15,"c":5,"v":0.1},{"r":15,"c":6,"v":0.1},{"r":15,"c":7,"v":0.075},{"r":15,"c":8,"v":0.075},{"r":15,"c":9,"v":0.075},{"r":15,"c":10,"v":0.1},{"r":15,"c":11,"v":0.05},{"r":15,"c":12,"v":0.1},{"r":15,"c":13,"v":0.05},{"r":15,"c":14,"v":0.075},{"r":15,"c":15,"v":0.075},{"r":15,"c":16,"v":0.1},{"r":15,"c":17,"v":0.075},{"r":15,"c":18,"v":0.075},{"r":15,"c":19,"v":0.075},{"r":15,"c":20,"v":0.15},{"r":15,"c":21,"v":0.075},{"r":15,"c":22,"v":0.075},{"r":15,"c":23,"v":0.15},{"r":15,"c":24,"v":0.1},{"r":15,"c":25,"v":0.075},{"r":15,"c":26,"v":0.05},{"r":15,"c":27,"v":0.075},{"r":15,"c":28,"v":0.1},{"r":15,"c":29,"v":0.05},{"r":15,"c":30,"v":0.033},{"r":15,"c":31,"v":0.075},{"r":15,"c":32,"v":0.05},{"r":15,"c":33,"v":0.1},{"r":15,"c":34,"v":0.05},{"r":15,"c":35,"v":0.15},{"r":15,"c":36,"v":0.15},
{"r":16,"c":0,"v":0.075},{"r":16,"c":1,"v":0.0078},{"r":16,"c":2,"v":0.05},{"r":16,"c":3,"v":0.1},{"r":16,"c":4,"v":0.1},{"r":16,"c":5,"v":0.15},{"r":16,"c":6,"v":0.0078},{"r":16,"c":7,"v":0.1},{"r":16,"c":8,"v":0.075},{"r":16,"c":9,"v":0.033},{"r":16,"c":10,"v":0.02},{"r":16,"c":11,"v":0.02},{"r":16,"c":12,"v":0.1},{"r":16,"c":13,"v":0.22},{"r":16,"c":14,"v":0.05},{"r":16,"c":15,"v":0.1},{"r":16,"c":16,"v":0.033},{"r":16,"c":17,"v":0.075},{"r":16,"c":18,"v":0.013},{"r":16,"c":19,"v":0.075},{"r":16,"c":20,"v":0.1},{"r":16,"c":21,"v":0.05},{"r":16,"c":22,"v":0.05},{"r":16,"c":23,"v":0.0078},{"r":16,"c":24,"v":0.15},{"r":16,"c":25,"v":0.033},{"r":16,"c":26,"v":0.1},{"r":16,"c":27,"v":0.075},{"r":16,"c":28,"v":0.075},{"r":16,"c":29,"v":0.02},{"r":16,"c":30,"v":0.15},{"r":16,"c":31,"v":0.22},{"r":16,"c":32,"v":0.05},{"r":16,"c":33,"v":0.15},{"r":16,"c":34,"v":0.15},{"r":16,"c":35,"v":0.02},{"r":16,"c":36,"v":0.0078},
{"r":17,"c":0,"v":0.075},{"r":17,"c":1,"v":0.075},{"r":17,"c":2,"v":0.02},{"r":17,"c":3,"v":0.075},{"r":17,"c":4,"v":0.1},{"r":17,"c":5,"v":0.02},{"r":17,"c":6,"v":0.02},{"r":17,"c":7,"v":0.05},{"r":17,"c":8,"v":0.22},{"r":17,"c":9,"v":0.02},{"r":17,"c":10,"v":0.05},{"r":17,"c":11,"v":0.033},{"r":17,"c":12,"v":0.075},{"r":17,"c":13,"v":0.075},{"r":17,"c":14,"v":0.075},{"r":17,"c":15,"v":0.02},{"r":17,"c":16,"v":0.075},{"r":17,"c":17,"v":0.05},{"r":17,"c":18,"v":0.1},{"r":17,"c":19,"v":0.05},{"r":17,"c":20,"v":0.075},{"r":17,"c":21,"v":0.033},{"r":17,"c":22,"v":0.033},{"r":17,"c":23,"v":0.05},{"r":17,"c":24,"v":0.075},{"r":17,"c":25,"v":0.02},{"r":17,"c":26,"v":0.15},{"r":17,"c":27,"v":0.05},{"r":17,"c":28,"v":0.0078},{"r":17,"c":29,"v":0.1},{"r":17,"c":30,"v":0.15},{"r":17,"c":31,"v":0.15},{"r":17,"c":32,"v":0.02},{"r":17,"c":33,"v":0.05},{"r":17,"c":34,"v":0.02},{"r":17,"c":35,"v":0.02},{"r":17,"c":36,"v":0.033},
{"r":18,"c":0,"v":0.05},{"r":18,"c":1,"v":0.033},{"r":18,"c":2,"v":0.075},{"r":18,"c":3,"v":0.033},{"r":18,"c":4,"v":0.05},{"r":18,"c":5,"v":0.05},{"r":18,"c":6,"v":0.1},{"r":18,"c":7,"v":0.05},{"r":18,"c":8,"v":0.033},{"r":18,"c":9,"v":0.075},{"r":18,"c":10,"v":0.05},{"r":18,"c":11,"v":0.075},{"r":18,"c":12,"v":0.05},{"r":18,"c":13,"v":0.033},{"r":18,"c":14,"v":0.075},{"r":18,"c":15,"v":0.05},{"r":18,"c":16,"v":0.05},{"r":18,"c":17,"v":0.05},{"r":18,"c":18,"v":0.075},{"r":18,"c":19,"v":0.075},{"r":18,"c":20,"v":0.033},{"r":18,"c":21,"v":0.075},{"r":18,"c":22,"v":0.075},{"r":18,"c":23,"v":0.075},{"r":18,"c":24,"v":0.05},{"r":18,"c":25,"v":0.075},{"r":18,"c":26,"v":0.05},{"r":18,"c":27,"v":0.1},{"r":18,"c":28,"v":0.05},{"r":18,"c":29,"v":0.05},{"r":18,"c":30,"v":0.075},{"r":18,"c":31,"v":0.033},{"r":18,"c":32,"v":0.02},{"r":18,"c":33,"v":0.075},{"r":18,"c":34,"v":0.05},{"r":18,"c":35,"v":0.15},{"r":18,"c":36,"v":0.1},
{"r":19,"c":0,"v":0.033},{"r":19,"c":1,"v":0.033},{"r":19,"c":2,"v":0.15},{"r":19,"c":3,"v":0.075},{"r":19,"c":4,"v":0.05},{"r":19,"c":5,"v":0.0078},{"r":19,"c":6,"v":0.05},{"r":19,"c":7,"v":0.075},{"r":19,"c":8,"v":0.05},{"r":19,"c":9,"v":0.075},{"r":19,"c":10,"v":0.02},{"r":19,"c":11,"v":0.033},{"r":19,"c":12,"v":0.075},{"r":19,"c":13,"v":0.15},{"r":19,"c":14,"v":0.02},{"r":19,"c":15,"v":0.075},{"r":19,"c":16,"v":0.05},{"r":19,"c":17,"v":0.033},{"r":19,"c":18,"v":0.033},{"r":19,"c":19,"v":0.15},{"r":19,"c":20,"v":0.033},{"r":19,"c":21,"v":0.15},{"r":19,"c":22,"v":0.05},{"r":19,"c":23,"v":0.1},{"r":19,"c":24,"v":0.02},{"r":19,"c":25,"v":0.075},{"r":19,"c":26,"v":0.075},{"r":19,"c":27,"v":0.02},{"r":19,"c":28,"v":0.02},{"r":19,"c":29,"v":0.075},{"r":19,"c":30,"v":0.013},{"r":19,"c":31,"v":0.033},{"r":19,"c":32,"v":0.02},{"r":19,"c":33,"v":0.02},{"r":19,"c":34,"v":0.02},{"r":19,"c":35,"v":0.075},{"r":19,"c":36,"v":0.013},
{"r":20,"c":0,"v":0.0078},{"r":20,"c":1,"v":0.0078},{"r":20,"c":2,"v":0.0078},{"r":20,"c":3,"v":0.0078},{"r":20,"c":4,"v":0.0078},{"r":20,"c":5,"v":0.0078},{"r":20,"c":6,"v":0.0078},{"r":20,"c":7,"v":0.0078},{"r":20,"c":8,"v":0.0078},{"r":20,"c":9,"v":0.0078},{"r":20,"c":10,"v":0.0078},{"r":20,"c":11,"v":0.0078},{"r":20,"c":12,"v":0.0078},{"r":20,"c":13,"v":0.0078},{"r":20,"c":14,"v":0.0078},{"r":20,"c":15,"v":0.0078},{"r":20,"c":16,"v":0.0078},{"r":20,"c":17,"v":0.0078},{"r":20,"c":18,"v":0.0078},{"r":20,"c":19,"v":0.0078},{"r":20,"c":20,"v":0.0078},{"r":20,"c":21,"v":0.0078},{"r":20,"c":22,"v":0.0078},{"r":20,"c":23,"v":0.0078},{"r":20,"c":24,"v":0.0078},{"r":20,"c":25,"v":0.0078},{"r":20,"c":26,"v":2},{"r":20,"c":27,"v":0.0078},{"r":20,"c":28,"v":0.0078},{"r":20,"c":29,"v":0.0078},{"r":20,"c":30,"v":0.0078},{"r":20,"c":31,"v":0.013},{"r":20,"c":32,"v":0.0078},{"r":20,"c":33,"v":0.0078},{"r":20,"c":34,"v":0.0078},{"r":20,"c":35,"v":0.0078},{"r":20,"c":36,"v":0.0078},
{"r":21,"c":0,"v":0.033},{"r":21,"c":1,"v":0.013},{"r":21,"c":2,"v":0.05},{"r":21,"c":3,"v":0.05},{"r":21,"c":4,"v":0.05},{"r":21,"c":5,"v":0.075},{"r":21,"c":6,"v":0.02},{"r":21,"c":7,"v":0.05},{"r":21,"c":8,"v":0.075},{"r":21,"c":9,"v":0.05},{"r":21,"c":10,"v":0.05},{"r":21,"c":11,"v":0.033},{"r":21,"c":12,"v":0.033},{"r":21,"c":13,"v":0.1},{"r":21,"c":14,"v":0.033},{"r":21,"c":15,"v":0.05},{"r":21,"c":16,"v":0.05},{"r":21,"c":17,"v":0.033},{"r":21,"c":18,"v":0.075},{"r":21,"c":19,"v":0.1},{"r":21,"c":20,"v":0.05},{"r":21,"c":21,"v":0.05},{"r":21,"c":22,"v":0.05},{"r":21,"c":23,"v":0.02},{"r":21,"c":24,"v":0.033},{"r":21,"c":25,"v":0.02},{"r":21,"c":26,"v":0.05},{"r":21,"c":27,"v":0.05},{"r":21,"c":28,"v":0.075},{"r":21,"c":29,"v":0.05},{"r":21,"c":30,"v":0.05},{"r":21,"c":31,"v":0.013},{"r":21,"c":32,"v":0.075},{"r":21,"c":33,"v":0.075},{"r":21,"c":34,"v":0.075},{"r":21,"c":35,"v":0.05},{"r":21,"c":36,"v":0.033},
{"r":22,"c":0,"v":0.033},{"r":22,"c":1,"v":0.075},{"r":22,"c":2,"v":0.075},{"r":22,"c":3,"v":0.033},{"r":22,"c":4,"v":0.033},{"r":22,"c":5,"v":0.033},{"r":22,"c":6,"v":0.1},{"r":22,"c":7,"v":0.075},{"r":22,"c":8,"v":0.05},{"r":22,"c":9,"v":0.033},{"r":22,"c":10,"v":0.033},{"r":22,"c":11,"v":0.033},{"r":22,"c":12,"v":0.013},{"r":22,"c":13,"v":0.033},{"r":22,"c":14,"v":0.075},{"r":22,"c":15,"v":0.033},{"r":22,"c":16,"v":0.05},{"r":22,"c":17,"v":0.033},{"r":22,"c":18,"v":0.1},{"r":22,"c":19,"v":0.05},{"r":22,"c":20,"v":0.05},{"r":22,"c":21,"v":0.075},{"r":22,"c":22,"v":0.033},{"r":22,"c":23,"v":0.075},{"r":22,"c":24,"v":0.033},{"r":22,"c":25,"v":0.033},{"r":22,"c":26,"v":0.033},{"r":22,"c":27,"v":0.075},{"r":22,"c":28,"v":0.02},{"r":22,"c":29,"v":0.05},{"r":22,"c":30,"v":0.05},{"r":22,"c":31,"v":0.05},{"r":22,"c":32,"v":0.05},{"r":22,"c":33,"v":0.033},{"r":22,"c":34,"v":0.05},{"r":22,"c":35,"v":0.075},{"r":22,"c":36,"v":0.075},
{"r":23,"c":0,"v":0.05},{"r":23,"c":1,"v":0.075},{"r":23,"c":2,"v":0.033},{"r":23,"c":3,"v":0.05},{"r":23,"c":4,"v":0.075},{"r":23,"c":5,"v":0.075},{"r":23,"c":6,"v":0.013},{"r":23,"c":7,"v":0.075},{"r":23,"c":8,"v":0.05},{"r":23,"c":9,"v":0.0078},{"r":23,"c":10,"v":0.013},{"r":23,"c":11,"v":0.013},{"r":23,"c":12,"v":0.075},{"r":23,"c":13,"v":0.033},{"r":23,"c":14,"v":0.033},{"r":23,"c":15,"v":0.033},{"r":23,"c":16,"v":0.033},{"r":23,"c":17,"v":0.033},{"r":23,"c":18,"v":0.02},{"r":23,"c":19,"v":0.033},{"r":23,"c":20,"v":0.05},{"r":23,"c":21,"v":0.033},{"r":23,"c":22,"v":0.075},{"r":23,"c":23,"v":0.033},{"r":23,"c":24,"v":0.075},{"r":23,"c":25,"v":0.05},{"r":23,"c":26,"v":0.075},{"r":23,"c":27,"v":0.15},{"r":23,"c":28,"v":0.075},{"r":23,"c":29,"v":0.0078},{"r":23,"c":30,"v":0.033},{"r":23,"c":31,"v":0.075},{"r":23,"c":32,"v":0.0078},{"r":23,"c":33,"v":0.033},{"r":23,"c":34,"v":0.075},{"r":23,"c":35,"v":0.075},{"r":23,"c":36,"v":0.05},
{"r":24,"c":0,"v":0.05},{"r":24,"c":1,"v":0.075},{"r":24,"c":2,"v":0.033},{"r":24,"c":3,"v":0.02},{"r":24,"c":4,"v":0.05},{"r":24,"c":5,"v":0.05},{"r":24,"c":6,"v":0.05},{"r":24,"c":7,"v":0.033},{"r":24,"c":8,"v":0.075},{"r":24,"c":9,"v":0.05},{"r":24,"c":10,"v":0.033},{"r":24,"c":11,"v":0.0078},{"r":24,"c":12,"v":0.075},{"r":24,"c":13,"v":0.1},{"r":24,"c":14,"v":0.02},{"r":24,"c":15,"v":0.05},{"r":24,"c":16,"v":0.05},{"r":24,"c":17,"v":0.05},{"r":24,"c":18,"v":0.033},{"r":24,"c":19,"v":0.05},{"r":24,"c":20,"v":0.05},{"r":24,"c":21,"v":0.05},{"r":24,"c":22,"v":0.033},{"r":24,"c":23,"v":0.075},{"r":24,"c":24,"v":0.075},{"r":24,"c":25,"v":0.075},{"r":24,"c":26,"v":0.1},{"r":24,"c":27,"v":0.075},{"r":24,"c":28,"v":0.075},{"r":24,"c":29,"v":0.05},{"r":24,"c":30,"v":0.05},{"r":24,"c":31,"v":0.15},{"r":24,"c":32,"v":0.0078},{"r":24,"c":33,"v":0.075},{"r":24,"c":34,"v":0.013},{"r":24,"c":35,"v":0.05},{"r":24,"c":36,"v":0.02},
{"r":25,"c":0,"v":0.05},{"r":25,"c":1,"v":0.05},{"r":25,"c":2,"v":0.05},{"r":25,"c":3,"v":0.05},{"r":25,"c":4,"v":0.075},{"r":25,"c":5,"v":0.075},{"r":25,"c":6,"v":0.0078},{"r":25,"c":7,"v":0.05},{"r":25,"c":8,"v":0.05},{"r":25,"c":9,"v":0.033},{"r":25,"c":10,"v":0.013},{"r":25,"c":11,"v":0.033},{"r":25,"c":12,"v":0.075},{"r":25,"c":13,"v":0.075},{"r":25,"c":14,"v":0.033},{"r":25,"c":15,"v":0.05},{"r":25,"c":16,"v":0.05},{"r":25,"c":17,"v":0.0078},{"r":25,"c":18,"v":0.02},{"r":25,"c":19,"v":0.02},{"r":25,"c":20,"v":0.05},{"r":25,"c":21,"v":0.013},{"r":25,"c":22,"v":0.075},{"r":25,"c":23,"v":0.075},{"r":25,"c":24,"v":0.075},{"r":25,"c":25,"v":0.02},{"r":25,"c":26,"v":0.075},{"r":25,"c":27,"v":0.075},{"r":25,"c":28,"v":0.02},{"r":25,"c":29,"v":0.033},{"r":25,"c":30,"v":0.1},{"r":25,"c":31,"v":0.075},{"r":25,"c":32,"v":0.02},{"r":25,"c":33,"v":0.075},{"r":25,"c":34,"v":0.05},{"r":25,"c":35,"v":0.013},{"r":25,"c":36,"v":0.02},
{"r":26,"c":0,"v":0.013},{"r":26,"c":1,"v":0.05},{"r":26,"c":2,"v":0.0078},{"r":26,"c":3,"v":0.033},{"r":26,"c":4,"v":0.05},{"r":26,"c":5,"v":0.075},{"r":26,"c":6,"v":0.0078},{"r":26,"c":7,"v":0.033},{"r":26,"c":8,"v":0.013},{"r":26,"c":9,"v":0.075},{"r":26,"c":10,"v":0.0078},{"r":26,"c":11,"v":0.15},{"r":26,"c":12,"v":0.02},{"r":26,"c":13,"v":0.075},{"r":26,"c":14,"v":0.05},{"r":26,"c":15,"v":0.05},{"r":26,"c":16,"v":0.15},{"r":26,"c":17,"v":0.0078},{"r":26,"c":18,"v":0.013},{"r":26,"c":19,"v":0.013},{"r":26,"c":20,"v":0.013},{"r":26,"c":21,"v":0.013},{"r":26,"c":22,"v":0.033},{"r":26,"c":23,"v":0.075},{"r":26,"c":24,"v":0.02},{"r":26,"c":25,"v":0.05},{"r":26,"c":26,"v":0.05},{"r":26,"c":27,"v":0.05},{"r":26,"c":28,"v":0.075},{"r":26,"c":29,"v":0.013},{"r":26,"c":30,"v":0.05},{"r":26,"c":31,"v":0.075},{"r":26,"c":32,"v":0.05},{"r":26,"c":33,"v":0.05},{"r":26,"c":34,"v":0.075},{"r":26,"c":35,"v":0.02},{"r":26,"c":36,"v":0.075},
{"r":27,"c":0,"v":0.033},{"r":27,"c":1,"v":0.075},{"r":27,"c":2,"v":0.02},{"r":27,"c":3,"v":0.02},{"r":27,"c":4,"v":0.02},{"r":27,"c":5,"v":0.02},{"r":27,"c":6,"v":0.0078},{"r":27,"c":7,"v":0.033},{"r":27,"c":8,"v":0.05},{"r":27,"c":9,"v":0.0078},{"r":27,"c":10,"v":0.033},{"r":27,"c":11,"v":0.033},{"r":27,"c":12,"v":0.033},{"r":27,"c":13,"v":0.075},{"r":27,"c":14,"v":0.033},{"r":27,"c":15,"v":0.033},{"r":27,"c":16,"v":0.0078},{"r":27,"c":17,"v":0.02},{"r":27,"c":18,"v":0.0078},{"r":27,"c":19,"v":0.05},{"r":27,"c":20,"v":0.02},{"r":27,"c":21,"v":0.02},{"r":27,"c":22,"v":0.02},{"r":27,"c":23,"v":0.05},{"r":27,"c":24,"v":0.05},{"r":27,"c":25,"v":0.013},{"r":27,"c":26,"v":0.05},{"r":27,"c":27,"v":0.05},{"r":27,"c":28,"v":0.02},{"r":27,"c":29,"v":0.033},{"r":27,"c":30,"v":0.05},{"r":27,"c":31,"v":0.075},{"r":27,"c":32,"v":0.0078},{"r":27,"c":33,"v":0.05},{"r":27,"c":34,"v":0.05},{"r":27,"c":35,"v":0.033},{"r":27,"c":36,"v":0.05},
{"r":28,"c":0,"v":0.4},{"r":28,"c":1,"v":0.0078},{"r":28,"c":2,"v":0.02},{"r":28,"c":3,"v":0.013},{"r":28,"c":4,"v":0.0078},{"r":28,"c":5,"v":0.0078},{"r":28,"c":6,"v":0.0078},{"r":28,"c":7,"v":0.013},{"r":28,"c":8,"v":0.0078},{"r":28,"c":9,"v":0.0078},{"r":28,"c":10,"v":0.02},{"r":28,"c":11,"v":0.0078},{"r":28,"c":12,"v":0.0078},{"r":28,"c":13,"v":0.02},{"r":28,"c":14,"v":0.0078},{"r":28,"c":15,"v":0.0078},{"r":28,"c":16,"v":0.0078},{"r":28,"c":17,"v":0.02},{"r":28,"c":18,"v":0.013},{"r":28,"c":19,"v":0.033},{"r":28,"c":20,"v":0.02},{"r":28,"c":21,"v":0.033},{"r":28,"c":22,"v":0.05},{"r":28,"c":23,"v":0.0078},{"r":28,"c":24,"v":0.0078},{"r":28,"c":25,"v":0.0078},{"r":28,"c":26,"v":0.013},{"r":28,"c":27,"v":0.0078},{"r":28,"c":28,"v":0.0078},{"r":28,"c":29,"v":0.0078},{"r":28,"c":30,"v":0.05},{"r":28,"c":31,"v":0.0078},{"r":28,"c":32,"v":0.4},{"r":28,"c":33,"v":0.033},{"r":28,"c":34,"v":0.0078},{"r":28,"c":35,"v":0.0078},{"r":28,"c":36,"v":0.0078},
{"r":29,"c":0,"v":0.02},{"r":29,"c":1,"v":0.033},{"r":29,"c":2,"v":0.013},{"r":29,"c":3,"v":0.02},{"r":29,"c":4,"v":0.075},{"r":29,"c":5,"v":0.0078},{"r":29,"c":6,"v":0.02},{"r":29,"c":7,"v":0.02},{"r":29,"c":8,"v":0.075},{"r":29,"c":9,"v":0.0078},{"r":29,"c":10,"v":0.013},{"r":29,"c":11,"v":0.033},{"r":29,"c":12,"v":0.02},{"r":29,"c":13,"v":0.033},{"r":29,"c":14,"v":0.02},{"r":29,"c":15,"v":0.05},{"r":29,"c":16,"v":0.013},{"r":29,"c":17,"v":0.013},{"r":29,"c":18,"v":0.0078},{"r":29,"c":19,"v":0.033},{"r":29,"c":20,"v":0.05},{"r":29,"c":21,"v":0.02},{"r":29,"c":22,"v":0.02},{"r":29,"c":23,"v":0.02},{"r":29,"c":24,"v":0.075},{"r":29,"c":25,"v":0.033},{"r":29,"c":26,"v":0.033},{"r":29,"c":27,"v":0.05},{"r":29,"c":28,"v":0.033},{"r":29,"c":29,"v":0.0078},{"r":29,"c":30,"v":0.033},{"r":29,"c":31,"v":0.05},{"r":29,"c":32,"v":0.033},{"r":29,"c":33,"v":0.05},{"r":29,"c":34,"v":0.05},{"r":29,"c":35,"v":0.02},{"r":29,"c":36,"v":0.0078},
{"r":30,"c":0,"v":0.0078},{"r":30,"c":1,"v":0.033},{"r":30,"c":2,"v":0.013},{"r":30,"c":3,"v":0.05},{"r":30,"c":4,"v":0.033},{"r":30,"c":5,"v":0.033},{"r":30,"c":6,"v":0.033},{"r":30,"c":7,"v":0.013},{"r":30,"c":8,"v":0.05},{"r":30,"c":9,"v":0.0078},{"r":30,"c":10,"v":0.033},{"r":30,"c":11,"v":0.013},{"r":30,"c":12,"v":0.033},{"r":30,"c":13,"v":0.033},{"r":30,"c":14,"v":0.02},{"r":30,"c":15,"v":0.05},{"r":30,"c":16,"v":0.0078},{"r":30,"c":17,"v":0.02},{"r":30,"c":18,"v":0.02},{"r":30,"c":19,"v":0.02},{"r":30,"c":20,"v":0.033},{"r":30,"c":21,"v":0.05},{"r":30,"c":22,"v":0.013},{"r":30,"c":23,"v":0.033},{"r":30,"c":24,"v":0.05},{"r":30,"c":25,"v":0.013},{"r":30,"c":26,"v":0.033},{"r":30,"c":27,"v":0.05},{"r":30,"c":28,"v":0.033},{"r":30,"c":29,"v":0.033},{"r":30,"c":30,"v":0.02},{"r":30,"c":31,"v":0.02},{"r":30,"c":32,"v":0.02},{"r":30,"c":33,"v":0.0078},{"r":30,"c":34,"v":0.033},{"r":30,"c":35,"v":0.02},{"r":30,"c":36,"v":0.05},
{"r":31,"c":0,"v":0.033},{"r":31,"c":1,"v":0.0078},{"r":31,"c":2,"v":0.05},{"r":31,"c":3,"v":0.013},{"r":31,"c":4,"v":0.0078},{"r":31,"c":5,"v":0.013},{"r":31,"c":6,"v":0.0078},{"r":31,"c":7,"v":0.02},{"r":31,"c":8,"v":0.0078},{"r":31,"c":9,"v":0.0078},{"r":31,"c":10,"v":0.033},{"r":31,"c":11,"v":0.033},{"r":31,"c":12,"v":0.0078},{"r":31,"c":13,"v":0.033},{"r":31,"c":14,"v":0.033},{"r":31,"c":15,"v":0.033},{"r":31,"c":16,"v":0.033},{"r":31,"c":17,"v":0.033},{"r":31,"c":18,"v":0.033},{"r":31,"c":19,"v":0.033},{"r":31,"c":20,"v":0.033},{"r":31,"c":21,"v":0.033},{"r":31,"c":22,"v":0.02},{"r":31,"c":23,"v":0.05},{"r":31,"c":24,"v":0.033},{"r":31,"c":25,"v":0.033},{"r":31,"c":26,"v":0.05},{"r":31,"c":27,"v":0.033},{"r":31,"c":28,"v":0.033},{"r":31,"c":29,"v":0.033},{"r":31,"c":30,"v":0.033},{"r":31,"c":31,"v":0.013},{"r":31,"c":32,"v":0.033},{"r":31,"c":33,"v":0.05},{"r":31,"c":34,"v":0.033},{"r":31,"c":35,"v":0.05},{"r":31,"c":36,"v":0.033},
{"r":32,"c":0,"v":0.02},{"r":32,"c":1,"v":0.033},{"r":32,"c":2,"v":0.0078},{"r":32,"c":3,"v":0.02},{"r":32,"c":4,"v":0.0078},{"r":32,"c":5,"v":0.033},{"r":32,"c":6,"v":0.05},{"r":32,"c":7,"v":0.033},{"r":32,"c":8,"v":0.0078},{"r":32,"c":9,"v":0.0078},{"r":32,"c":10,"v":0.075},{"r":32,"c":11,"v":0.05},{"r":32,"c":12,"v":0.0078},{"r":32,"c":13,"v":0.05},{"r":32,"c":14,"v":0.033},{"r":32,"c":15,"v":0.033},{"r":32,"c":16,"v":0.0078},{"r":32,"c":17,"v":0.013},{"r":32,"c":18,"v":0.013},{"r":32,"c":19,"v":0.0078},{"r":32,"c":20,"v":0.05},{"r":32,"c":21,"v":0.02},{"r":32,"c":22,"v":0.02},{"r":32,"c":23,"v":0.033},{"r":32,"c":24,"v":0.02},{"r":32,"c":25,"v":0.033},{"r":32,"c":26,"v":0.0078},{"r":32,"c":27,"v":0.05},{"r":32,"c":28,"v":0.0078},{"r":32,"c":29,"v":0.013},{"r":32,"c":30,"v":0.05},{"r":32,"c":31,"v":0.013},{"r":32,"c":32,"v":0.033},{"r":32,"c":33,"v":0.0078},{"r":32,"c":34,"v":0.013},{"r":32,"c":35,"v":0.033},{"r":32,"c":36,"v":0.05},
{"r":33,"c":0,"v":0.22},{"r":33,"c":1,"v":0.0078},{"r":33,"c":2,"v":0.0078},{"r":33,"c":3,"v":0.0078},{"r":33,"c":4,"v":0.0078},{"r":33,"c":5,"v":0.0078},{"r":33,"c":6,"v":0.013},{"r":33,"c":7,"v":0.0078},{"r":33,"c":8,"v":0.0078},{"r":33,"c":9,"v":0.02},{"r":33,"c":10,"v":0.05},{"r":33,"c":11,"v":0.0078},{"r":33,"c":12,"v":0.0078},{"r":33,"c":13,"v":0.0078},{"r":33,"c":14,"v":0.0078},{"r":33,"c":15,"v":0.0078},{"r":33,"c":16,"v":0.0078},{"r":33,"c":17,"v":0.05},{"r":33,"c":18,"v":0.0078},{"r":33,"c":19,"v":0.013},{"r":33,"c":20,"v":0.0078},{"r":33,"c":21,"v":0.0078},{"r":33,"c":22,"v":0.075},{"r":33,"c":23,"v":0.0078},{"r":33,"c":24,"v":0.0078},{"r":33,"c":25,"v":0.0078},{"r":33,"c":26,"v":0.02},{"r":33,"c":27,"v":0.0078},{"r":33,"c":28,"v":0.0078},{"r":33,"c":29,"v":0.0078},{"r":33,"c":30,"v":0.0078},{"r":33,"c":31,"v":0.0078},{"r":33,"c":32,"v":0.22},{"r":33,"c":33,"v":0.075},{"r":33,"c":34,"v":0.0078},{"r":33,"c":35,"v":0.0078},{"r":33,"c":36,"v":0.0078},
{"r":34,"c":0,"v":0.02},{"r":34,"c":1,"v":0.02},{"r":34,"c":2,"v":0.0078},{"r":34,"c":3,"v":0.0078},{"r":34,"c":4,"v":0.05},{"r":34,"c":5,"v":0.02},{"r":34,"c":6,"v":0.0078},{"r":34,"c":7,"v":0.0078},{"r":34,"c":8,"v":0.033},{"r":34,"c":9,"v":0.02},{"r":34,"c":10,"v":0.0078},{"r":34,"c":11,"v":0.0078},{"r":34,"c":12,"v":0.05},{"r":34,"c":13,"v":0.075},{"r":34,"c":14,"v":0.033},{"r":34,"c":15,"v":0.02},{"r":34,"c":16,"v":0.013},{"r":34,"c":17,"v":0.02},{"r":34,"c":18,"v":0.033},{"r":34,"c":19,"v":0.0078},{"r":34,"c":20,"v":0.0078},{"r":34,"c":21,"v":0.0078},{"r":34,"c":22,"v":0.0078},{"r":34,"c":23,"v":0.0078},{"r":34,"c":24,"v":0.0078},{"r":34,"c":25,"v":0.013},{"r":34,"c":26,"v":0.15},{"r":34,"c":27,"v":0.013},{"r":34,"c":28,"v":0.02},{"r":34,"c":29,"v":0.013},{"r":34,"c":30,"v":0.0078},{"r":34,"c":31,"v":0.033},{"r":34,"c":32,"v":0.05},{"r":34,"c":33,"v":0.033},{"r":34,"c":34,"v":0.013},{"r":34,"c":35,"v":0.013},{"r":34,"c":36,"v":0.0078},
{"r":35,"c":0,"v":0.013},{"r":35,"c":1,"v":0.0078},{"r":35,"c":2,"v":0.0078},{"r":35,"c":3,"v":0.02},{"r":35,"c":4,"v":0.033},{"r":35,"c":5,"v":0.033},{"r":35,"c":6,"v":0.033},{"r":35,"c":7,"v":0.033},{"r":35,"c":8,"v":0.02},{"r":35,"c":9,"v":0.033},{"r":35,"c":10,"v":0.033},{"r":35,"c":11,"v":0.02},{"r":35,"c":12,"v":0.02},{"r":35,"c":13,"v":0.02},{"r":35,"c":14,"v":0.033},{"r":35,"c":15,"v":0.02},{"r":35,"c":16,"v":0.013},{"r":35,"c":17,"v":0.02},{"r":35,"c":18,"v":0.033},{"r":35,"c":19,"v":0.02},{"r":35,"c":20,"v":0.02},{"r":35,"c":21,"v":0.0078},{"r":35,"c":22,"v":0.013},{"r":35,"c":23,"v":0.0078},{"r":35,"c":24,"v":0.02},{"r":35,"c":25,"v":0.02},{"r":35,"c":26,"v":0.02},{"r":35,"c":27,"v":0.02},{"r":35,"c":28,"v":0.033},{"r":35,"c":29,"v":0.033},{"r":35,"c":30,"v":0.0078},{"r":35,"c":31,"v":0.033},{"r":35,"c":32,"v":0.0078},{"r":35,"c":33,"v":0.0078},{"r":35,"c":34,"v":0.02},{"r":35,"c":35,"v":0.033},{"r":35,"c":36,"v":0.02},
{"r":36,"c":0,"v":0.02},{"r":36,"c":1,"v":0.033},{"r":36,"c":2,"v":0.013},{"r":36,"c":3,"v":0.02},{"r":36,"c":4,"v":0.033},{"r":36,"c":5,"v":0.02},{"r":36,"c":6,"v":0.0078},{"r":36,"c":7,"v":0.033},{"r":36,"c":8,"v":0.033},{"r":36,"c":9,"v":0.0078},{"r":36,"c":10,"v":0.033},{"r":36,"c":11,"v":0.0078},{"r":36,"c":12,"v":0.033},{"r":36,"c":13,"v":0.02},{"r":36,"c":14,"v":0.013},{"r":36,"c":15,"v":0.0078},{"r":36,"c":16,"v":0.02},{"r":36,"c":17,"v":0.013},{"r":36,"c":18,"v":0.033},{"r":36,"c":19,"v":0.02},{"r":36,"c":20,"v":0.0078},{"r":36,"c":21,"v":0.0078},{"r":36,"c":22,"v":0.033},{"r":36,"c":23,"v":0.033},{"r":36,"c":24,"v":0.033},{"r":36,"c":25,"v":0.02},{"r":36,"c":26,"v":0.02},{"r":36,"c":27,"v":0.033},{"r":36,"c":28,"v":0.013},{"r":36,"c":29,"v":0.02},{"r":36,"c":30,"v":0.02},{"r":36,"c":31,"v":0.033},{"r":36,"c":32,"v":0.0078},{"r":36,"c":33,"v":0.033},{"r":36,"c":34,"v":0.02},{"r":36,"c":35,"v":0.0078},{"r":36,"c":36,"v":0.02},
{"r":37,"c":0,"v":0.013},{"r":37,"c":1,"v":0.013},{"r":37,"c":2,"v":0.0078},{"r":37,"c":3,"v":0.0078},{"r":37,"c":4,"v":0.013},{"r":37,"c":5,"v":0.033},{"r":37,"c":6,"v":0.033},{"r":37,"c":7,"v":0.02},{"r":37,"c":8,"v":0.02},{"r":37,"c":9,"v":0.033},{"r":37,"c":10,"v":0.033},{"r":37,"c":11,"v":0.033},{"r":37,"c":12,"v":0.0078},{"r":37,"c":13,"v":0.05},{"r":37,"c":14,"v":0.02},{"r":37,"c":15,"v":0.02},{"r":37,"c":16,"v":0.02},{"r":37,"c":17,"v":0.013},{"r":37,"c":18,"v":0.033},{"r":37,"c":19,"v":0.0078},{"r":37,"c":20,"v":0.033},{"r":37,"c":21,"v":0.0078},{"r":37,"c":22,"v":0.033},{"r":37,"c":23,"v":0.075},{"r":37,"c":24,"v":0.0078},{"r":37,"c":25,"v":0.02},{"r":37,"c":26,"v":0.0078},{"r":37,"c":27,"v":0.0078},{"r":37,"c":28,"v":0.0078},{"r":37,"c":29,"v":0.02},{"r":37,"c":30,"v":0.033},{"r":37,"c":31,"v":0.0078},{"r":37,"c":32,"v":0.013},{"r":37,"c":33,"v":0.033},{"r":37,"c":34,"v":0.013},{"r":37,"c":35,"v":0.033},{"r":37,"c":36,"v":0.0078},
{"r":38,"c":0,"v":0.013},{"r":38,"c":1,"v":0.05},{"r":38,"c":2,"v":0.05},{"r":38,"c":3,"v":0.013},{"r":38,"c":4,"v":0.033},{"r":38,"c":5,"v":0.033},{"r":38,"c":6,"v":0.02},{"r":38,"c":7,"v":0.02},{"r":38,"c":8,"v":0.02},{"r":38,"c":9,"v":0.0078},{"r":38,"c":10,"v":0.013},{"r":38,"c":11,"v":0.013},{"r":38,"c":12,"v":0.0078},{"r":38,"c":13,"v":0.0078},{"r":38,"c":14,"v":0.02},{"r":38,"c":15,"v":0.02},{"r":38,"c":16,"v":0.013},{"r":38,"c":17,"v":0.033},{"r":38,"c":18,"v":0.0078},{"r":38,"c":19,"v":0.033},{"r":38,"c":20,"v":0.02},{"r":38,"c":21,"v":0.02},{"r":38,"c":22,"v":0.02},{"r":38,"c":23,"v":0.02},{"r":38,"c":24,"v":0.02},{"r":38,"c":25,"v":0.013},{"r":38,"c":26,"v":0.033},{"r":38,"c":27,"v":0.0078},{"r":38,"c":28,"v":0.013},{"r":38,"c":29,"v":0.033},{"r":38,"c":30,"v":0.0078},{"r":38,"c":31,"v":0.013},{"r":38,"c":32,"v":0.02},{"r":38,"c":33,"v":0.0078},{"r":38,"c":34,"v":0.033},{"r":38,"c":35,"v":0.033},{"r":38,"c":36,"v":0.05},
{"r":39,"c":0,"v":0.033},{"r":39,"c":1,"v":0.1},{"r":39,"c":2,"v":0.013},{"r":39,"c":3,"v":0.0078},{"r":39,"c":4,"v":0.0078},{"r":39,"c":5,"v":0.0078},{"r":39,"c":6,"v":0.013},{"r":39,"c":7,"v":0.0078},{"r":39,"c":8,"v":0.0078},{"r":39,"c":9,"v":0.0078},{"r":39,"c":10,"v":0.0078},{"r":39,"c":11,"v":0.02},{"r":39,"c":12,"v":0.0078},{"r":39,"c":13,"v":0.033},{"r":39,"c":14,"v":0.0078},{"r":39,"c":15,"v":0.0078},{"r":39,"c":16,"v":0.033},{"r":39,"c":17,"v":0.02},{"r":39,"c":18,"v":0.075},{"r":39,"c":19,"v":0.02},{"r":39,"c":20,"v":0.0078},{"r":39,"c":21,"v":0.0078},{"r":39,"c":22,"v":0.075},{"r":39,"c":23,"v":0.02},{"r":39,"c":24,"v":0.02},{"r":39,"c":25,"v":0.0078},{"r":39,"c":26,"v":0.0078},{"r":39,"c":27,"v":0.0078},{"r":39,"c":28,"v":0.0078},{"r":39,"c":29,"v":0.0078},{"r":39,"c":30,"v":0.0078},{"r":39,"c":31,"v":0.0078},{"r":39,"c":32,"v":0.1},{"r":39,"c":33,"v":0.05},{"r":39,"c":34,"v":0.02},{"r":39,"c":35,"v":0.02},{"r":39,"c":36,"v":0.033}
],
"ebar":[{"n":"Genetic Information Processing | Translation","g":"no","v":4.66},{"n":"Genetic Information Processing | Translation","g":"yes","v":4.66},{"n":"Genetic Information Processing | Replication and R...","g":"no","v":4.37},{"n":"Genetic Information Processing | Replication and R...","g":"yes","v":4.37},{"n":"Metabolism | Energy Metabolism","g":"no","v":7.03},{"n":"Metabolism | Energy Metabolism","g":"yes","v":7.03},{"n":"Metabolism | Xenobiotics Biodegradation and Metabo...","g":"no","v":3.59},{"n":"Metabolism | Xenobiotics Biodegradation and Metabo...","g":"yes","v":3.59},{"n":"Human Diseases | Infectious Diseases","g":"no","v":3.41},{"n":"Human Diseases | Infectious Diseases","g":"yes","v":3.41},{"n":"Metabolism | Lipid Metabolism","g":"no","v":3.64},{"n":"Metabolism | Lipid Metabolism","g":"yes","v":3.64},{"n":"Cellular Processes | Cell Growth and Death","g":"no","v":1.65},{"n":"Cellular Processes | Cell Growth and Death","g":"yes","v":1.65},{"n":"Metabolism | Metabolism of Cofactors and Vitamins","g":"no","v":6.97},{"n":"Metabolism | Metabolism of Cofactors and Vitamins","g":"yes","v":6.97},{"n":"Metabolism | Biosynthesis of Other Secondary Metab...","g":"no","v":0.81},{"n":"Metabolism | Biosynthesis of Other Secondary Metab...","g":"yes","v":0.81},{"n":"Genetic Information Processing | Transcription","g":"no","v":0.26},{"n":"Genetic Information Processing | Transcription","g":"yes","v":0.26},{"n":"Organismal Systems | Endocrine System","g":"no","v":0.4},{"n":"Organismal Systems | Endocrine System","g":"yes","v":0.4},{"n":"Cellular Processes | Transport and Catabolism","g":"no","v":0.35},{"n":"Cellular Processes | Transport and Catabolism","g":"yes","v":0.35},{"n":"Organismal Systems | Nervous System","g":"no","v":0.14},{"n":"Organismal Systems | Nervous System","g":"yes","v":0.14},{"n":"Organismal Systems | Digestive System","g":"no","v":0.2},{"n":"Organismal Systems | Digestive System","g":"yes","v":0.2},{"n":"Human Diseases | Cancers","g":"no","v":0.23},{"n":"Human Diseases | Cancers","g":"yes","v":0.23},{"n":"Organismal Systems | Immune System","g":"no","v":0.09},{"n":"Organismal Systems | Immune System","g":"yes","v":0.09},{"n":"Human Diseases | Endocrine and Metabolic Diseases","g":"no","v":0.09},{"n":"Human Diseases | Endocrine and Metabolic Diseases","g":"yes","v":0.09},{"n":"Human Diseases | Neurodegenerative Diseases","g":"no","v":0.29},{"n":"Human Diseases | Neurodegenerative Diseases","g":"yes","v":0.29},{"n":"Human Diseases | Substance Dependence","g":"no","v":0.06},{"n":"Human Diseases | Substance Dependence","g":"yes","v":0.06},{"n":"Organismal Systems | Environmental Adaptation","g":"no","v":0.35},{"n":"Organismal Systems | Environmental Adaptation","g":"yes","v":0.35},{"n":"Human Diseases | Cardiovascular Diseases","g":"no","v":0.06},{"n":"Human Diseases | Cardiovascular Diseases","g":"yes","v":0.06},{"n":"Human Diseases | Immune Diseases","g":"no","v":0.08},{"n":"Human Diseases | Immune Diseases","g":"yes","v":0.08},{"n":"Organismal Systems | Excretory System","g":"no","v":0.06},{"n":"Organismal Systems | Excretory System","g":"yes","v":0.06},{"n":"Organismal Systems | Circulatory System","g":"no","v":0.05},{"n":"Organismal Systems | Circulatory System","g":"yes","v":0.05},{"n":"Cellular Processes | Cell Communication","g":"no","v":0.05},{"n":"Cellular Processes | Cell Communication","g":"yes","v":0.05},{"n":"Environmental Information Processing | Signaling M...","g":"no","v":0.05},{"n":"Environmental Information Processing | Signaling M...","g":"yes","v":0.05},{"n":"Organismal Systems | Sensory System","g":"no","v":0.04},{"n":"Organismal Systems | Sensory System","g":"yes","v":0.04}],
"erow":[{"n":"Genetic Information Processing | Translation","i":0,"d":-0.05,"g":"yes"},{"n":"Genetic Information Processing | Replication and R...","i":1,"d":-0.05,"g":"yes"},{"n":"Metabolism | Energy Metabolism","i":2,"d":0,"g":"no"},{"n":"Metabolism | Xenobiotics Biodegradation and Metabo...","i":3,"d":0,"g":"no"},{"n":"Human Diseases | Infectious Diseases","i":4,"d":0,"g":"no"},{"n":"Metabolism | Lipid Metabolism","i":5,"d":0,"g":"no"},{"n":"Cellular Processes | Cell Growth and Death","i":6,"d":0,"g":"no"},{"n":"Metabolism | Metabolism of Cofactors and Vitamins","i":7,"d":0,"g":"no"},{"n":"Metabolism | Biosynthesis of Other Secondary Metab...","i":8,"d":0,"g":"no"},{"n":"Genetic Information Processing | Transcription","i":9,"d":-0.02,"g":"yes"},{"n":"Organismal Systems | Endocrine System","i":10,"d":0,"g":"no"},{"n":"Cellular Processes | Transport and Catabolism","i":11,"d":0,"g":"no"},{"n":"Organismal Systems | Nervous System","i":12,"d":0,"g":"no"},{"n":"Organismal Systems | Digestive System","i":13,"d":0,"g":"no"},{"n":"Human Diseases | Cancers","i":14,"d":0,"g":"no"},{"n":"Organismal Systems | Immune System","i":15,"d":-0.02,"g":"yes"},{"n":"Human Diseases | Endocrine and Metabolic Diseases","i":16,"d":-0.03,"g":"yes"},{"n":"Human Diseases | Neurodegenerative Diseases","i":17,"d":0,"g":"no"},{"n":"Human Diseases | Substance Dependence","i":18,"d":0,"g":"no"},{"n":"Organismal Systems | Environmental Adaptation","i":19,"d":-0.02,"g":"yes"},{"n":"Human Diseases | Cardiovascular Diseases","i":20,"d":0,"g":"no"},{"n":"Human Diseases | Immune Diseases","i":21,"d":0,"g":"no"},{"n":"Organismal Systems | Excretory System","i":22,"d":0,"g":"no"},{"n":"Organismal Systems | Circulatory System","i":23,"d":0,"g":"no"},{"n":"Cellular Processes | Cell Communication","i":24,"d":-0.02,"g":"yes"},{"n":"Environmental Information Processing | Signaling M...","i":25,"d":-0.02,"g":"yes"},{"n":"Organismal Systems | Sensory System","i":26,"d":0,"g":"no"}]
},
"spacing":0,"bounds":"flush","resolve":{"scale":{"fill":"independent"},"legend":{"fill":"independent"}},"vconcat":[
{"spacing":0,"bounds":"flush","vconcat":[{"width":1,"height":11,"mark":"text"},{"spacing":0,"bounds":"flush","hconcat":[{"width":4,"height":1,"mark":"text"},{"width":70,"height":36,"data":{"values":[{"t":"(A)"}]},"mark":{"type":"text","fontSize":42},"encoding":{"text":{"field":"t"}}},{"width":595,"height":1,"mark":"text"},{"width":70,"height":36,"data":{"values":[{"t":"(B)"}]},"mark":{"type":"text","fontSize":42},"encoding":{"text":{"field":"t"}}},{"width":579,"height":1,"mark":"text"},{"width":70,"height":36,"data":{"values":[{"t":"(C)"}]},"mark":{"type":"text","fontSize":42},"encoding":{"text":{"field":"t"}}}]}]},
{"spacing":0,"bounds":"flush","vconcat":[{"width":1,"height":602,"mark":"text"},{"spacing":0,"bounds":"flush","hconcat":[{"width":5,"height":1,"mark":"text"},{"width":70,"height":36,"data":{"values":[{"t":"(D)"}]},"mark":{"type":"text","fontSize":42},"encoding":{"text":{"field":"t"}}},{"width":1022,"height":1,"mark":"text"},{"width":70,"height":36,"data":{"values":[{"t":"(E)"}]},"mark":{"type":"text","fontSize":42},"encoding":{"text":{"field":"t"}}}]}]},
{"spacing":0,"bounds":"flush","vconcat":[{"width":1,"height":34.4,"mark":"text"},{"spacing":0,"bounds":"flush","hconcat":[{"width":85,"height":1,"mark":"text"},
{"width":233,"height":14,"view":{"fill":"#d9d9d9","stroke":"#a6a6a6","strokeWidth":1.5},"data":{"values":[{"f":"Pielou"}]},"mark":{"type":"text","fontSize":14,"color":"#333"},"encoding":{"text":{"field":"f"}}},{"width":31,"height":1,"mark":"text"},
{"width":233,"height":14,"view":{"fill":"#d9d9d9","stroke":"#a6a6a6","strokeWidth":1.5},"data":{"values":[{"f":"Shannon"}]},"mark":{"type":"text","fontSize":14,"color":"#333"},"encoding":{"text":{"field":"f"}}}]}]},
{"spacing":0,"bounds":"flush","vconcat":[{"width":1,"height":312,"mark":"text"},{"spacing":0,"bounds":"flush","hconcat":[{"width":85,"height":1,"mark":"text"},
{"width":233,"height":14,"view":{"fill":"#d9d9d9","stroke":"#a6a6a6","strokeWidth":1.5},"data":{"values":[{"f":"Simpson"}]},"mark":{"type":"text","fontSize":14,"color":"#333"},"encoding":{"text":{"field":"f"}}},{"width":31,"height":1,"mark":"text"},
{"width":233,"height":14,"view":{"fill":"#d9d9d9","stroke":"#a6a6a6","strokeWidth":1.5},"data":{"values":[{"f":"InvSimpson"}]},"mark":{"type":"text","fontSize":14,"color":"#333"},"encoding":{"text":{"field":"f"}}}]}]},
{"spacing":0,"bounds":"flush","resolve":{"scale":{"fill":"independent"},"legend":{"fill":"independent"}},"vconcat":[{"width":1,"height":48,"mark":"text"},{"spacing":0,"bounds":"flush","resolve":{"scale":{"fill":"independent"},"legend":{"fill":"independent"}},"hconcat":[{"width":85,"height":1,"mark":"text"},
{"width":233,"height":252,"view":{"stroke":"#a6a6a6","strokeWidth":1.5},"layer":[
{"data":{"name":"box"},"transform":[{"filter":"datum.f=='Pielou'"}],"mark":{"type":"rule","color":"#666","strokeWidth":2},"encoding":{"x":{"field":"c","type":"quantitative","scale":{"domain":[0.4,2.6],"nice":false},"axis":{"values":[1,2],"labels":false,"ticks":false,"domain":false,"title":null,"grid":true,"gridColor":"#f0f0f0"}},"y":{"field":"lo","type":"quantitative","scale":{"domain":[0.5389,0.5996],"nice":false,"zero":false},"axis":{"values":[0.54,0.56,0.58],"format":".2f","title":"Alpha diversity","titleFontSize":15,"titleFontWeight":"normal","titlePadding":0,"labelFontSize":17,"labelColor":"#4d4d4d","domain":false,"tickColor":"#666","tickSize":3,"grid":true,"gridColor":"#f0f0f0"}},"y2":{"field":"hi"}}},
{"data":{"name":"box"},"transform":[{"filter":"datum.f=='Pielou'"}],"mark":{"type":"rect","stroke":"#333","strokeWidth":1},"encoding":{"x":{"field":"xl","type":"quantitative"},"x2":{"field":"xr"},"y":{"field":"q1","type":"quantitative"},"y2":{"field":"q3"},"fill":{"field":"g","type":"nominal","scale":{"domain":["no","yes"],"range":["#e64b35","#4db9d6"]},"legend":null}}},
{"data":{"name":"box"},"transform":[{"filter":"datum.f=='Pielou'"}],"mark":{"type":"rule","color":"#111","strokeWidth":2},"encoding":{"x":{"field":"xl","type":"quantitative"},"x2":{"field":"xr"},"y":{"field":"med","type":"quantitative"}}},
{"data":{"name":"pts"},"transform":[{"filter":"datum.f=='Pielou'"}],"mark":{"type":"point","filled":true,"color":"#000","size":14,"opacity":1},"encoding":{"x":{"field":"x","type":"quantitative"},"y":{"field":"v","type":"quantitative"}}},
{"data":{"name":"brk"},"transform":[{"filter":"datum.f=='Pielou'"}],"mark":{"type":"line","color":"#777","strokeWidth":1.2},"encoding":{"x":{"field":"x","type":"quantitative"},"y":{"field":"v","type":"quantitative"},"order":{"field":"o"}}},
{"data":{"name":"pv"},"transform":[{"filter":"datum.f=='Pielou'"}],"mark":{"type":"text","fontSize":11,"color":"#222"},"encoding":{"x":{"field":"x","type":"quantitative"},"y":{"field":"v","type":"quantitative"},"text":{"field":"p"}}}]},
{"width":31,"height":1,"mark":"text"},
{"width":233,"height":252,"view":{"stroke":"#a6a6a6","strokeWidth":1.5},"layer":[
{"data":{"name":"box"},"transform":[{"filter":"datum.f=='Shannon'"}],"mark":{"type":"rule","color":"#666","strokeWidth":2},"encoding":{"x":{"field":"c","type":"quantitative","scale":{"domain":[0.4,2.6],"nice":false},"axis":{"values":[1,2],"labels":false,"ticks":false,"domain":false,"title":null,"grid":true,"gridColor":"#f0f0f0"}},"y":{"field":"lo","type":"quantitative","scale":{"domain":[2.4435,2.764],"nice":false,"zero":false},"axis":{"values":[2.5,2.6,2.7],"labelExpr":"datum.value==2.5?'-2.5':format(datum.value,'.1f')","title":null,"labelFontSize":17,"labelColor":"#4d4d4d","domain":false,"tickColor":"#666","tickSize":3,"grid":true,"gridColor":"#f0f0f0"}},"y2":{"field":"hi"}}},
{"data":{"name":"box"},"transform":[{"filter":"datum.f=='Shannon'"}],"mark":{"type":"rect","stroke":"#333","strokeWidth":1},"encoding":{"x":{"field":"xl","type":"quantitative"},"x2":{"field":"xr"},"y":{"field":"q1","type":"quantitative"},"y2":{"field":"q3"},"fill":{"field":"g","type":"nominal","scale":{"domain":["no","yes"],"range":["#e64b35","#4db9d6"]},"legend":{"orient":"none","legendX":247,"legendY":82,"title":"Group","titleFontSize":15,"titleFontWeight":"normal","titleFont":"Liberation Serif","labelFont":"Liberation Serif","labelFontSize":14,"symbolType":"square","symbolSize":110,"symbolStrokeColor":"#333","symbolStrokeWidth":1,"rowPadding":1,"titlePadding":2,"labelOffset":5}}}},
{"data":{"name":"box"},"transform":[{"filter":"datum.f=='Shannon'"}],"mark":{"type":"rule","color":"#111","strokeWidth":2},"encoding":{"x":{"field":"xl","type":"quantitative"},"x2":{"field":"xr"},"y":{"field":"med","type":"quantitative"}}},
{"data":{"name":"pts"},"transform":[{"filter":"datum.f=='Shannon'"}],"mark":{"type":"point","filled":true,"color":"#000","size":14,"opacity":1},"encoding":{"x":{"field":"x","type":"quantitative"},"y":{"field":"v","type":"quantitative"}}},
{"data":{"name":"brk"},"transform":[{"filter":"datum.f=='Shannon'"}],"mark":{"type":"line","color":"#777","strokeWidth":1.2},"encoding":{"x":{"field":"x","type":"quantitative"},"y":{"field":"v","type":"quantitative"},"order":{"field":"o"}}},
{"data":{"name":"pv"},"transform":[{"filter":"datum.f=='Shannon'"}],"mark":{"type":"text","fontSize":11,"color":"#222"},"encoding":{"x":{"field":"x","type":"quantitative"},"y":{"field":"v","type":"quantitative"},"text":{"field":"p"}}}]}]}]},
{"spacing":0,"bounds":"flush","resolve":{"scale":{"fill":"independent"},"legend":{"fill":"independent"}},"vconcat":[{"width":1,"height":326,"mark":"text"},{"spacing":0,"bounds":"flush","resolve":{"scale":{"fill":"independent"},"legend":{"fill":"independent"}},"hconcat":[{"width":85,"height":1,"mark":"text"},
{"width":233,"height":252,"view":{"stroke":"#a6a6a6","strokeWidth":1.5},"layer":[
{"data":{"name":"box"},"transform":[{"filter":"datum.f=='Simpson'"}],"mark":{"type":"rule","color":"#666","strokeWidth":2},"encoding":{"x":{"field":"c","type":"quantitative","scale":{"domain":[0.4,2.6],"nice":false},"axis":{"values":[1,2],"labelExpr":"datum.value==1?'no':'yes'","labelFontSize":17,"labelColor":"#4d4d4d","ticks":false,"tickSize":0,"labelPadding":0,"domain":false,"title":null,"grid":true,"gridColor":"#f0f0f0"}},"y":{"field":"lo","type":"quantitative","scale":{"domain":[0.7797,0.8445],"nice":false,"zero":false},"axis":{"values":[0.78,0.8,0.82,0.84],"format":".2f","title":"Alpha diversity","titleFontSize":15,"titleFontWeight":"normal","titlePadding":0,"labelFontSize":17,"labelColor":"#4d4d4d","domain":false,"tickColor":"#666","tickSize":3,"grid":true,"gridColor":"#f0f0f0"}},"y2":{"field":"hi"}}},
{"data":{"name":"box"},"transform":[{"filter":"datum.f=='Simpson'"}],"mark":{"type":"rect","stroke":"#333","strokeWidth":1},"encoding":{"x":{"field":"xl","type":"quantitative"},"x2":{"field":"xr"},"y":{"field":"q1","type":"quantitative"},"y2":{"field":"q3"},"fill":{"field":"g","type":"nominal","scale":{"domain":["no","yes"],"range":["#e64b35","#4db9d6"]},"legend":null}}},
{"data":{"name":"box"},"transform":[{"filter":"datum.f=='Simpson'"}],"mark":{"type":"rule","color":"#111","strokeWidth":2},"encoding":{"x":{"field":"xl","type":"quantitative"},"x2":{"field":"xr"},"y":{"field":"med","type":"quantitative"}}},
{"data":{"name":"pts"},"transform":[{"filter":"datum.f=='Simpson'"}],"mark":{"type":"point","filled":true,"color":"#000","size":14,"opacity":1},"encoding":{"x":{"field":"x","type":"quantitative"},"y":{"field":"v","type":"quantitative"}}},
{"data":{"name":"brk"},"transform":[{"filter":"datum.f=='Simpson'"}],"mark":{"type":"line","color":"#777","strokeWidth":1.2},"encoding":{"x":{"field":"x","type":"quantitative"},"y":{"field":"v","type":"quantitative"},"order":{"field":"o"}}},
{"data":{"name":"pv"},"transform":[{"filter":"datum.f=='Simpson'"}],"mark":{"type":"text","fontSize":11,"color":"#222"},"encoding":{"x":{"field":"x","type":"quantitative"},"y":{"field":"v","type":"quantitative"},"text":{"field":"p"}}}]},
{"width":31,"height":1,"mark":"text"},
{"width":233,"height":252,"view":{"stroke":"#a6a6a6","strokeWidth":1.5},"layer":[
{"data":{"name":"box"},"transform":[{"filter":"datum.f=='InvSimpson'"}],"mark":{"type":"rule","color":"#666","strokeWidth":2},"encoding":{"x":{"field":"c","type":"quantitative","scale":{"domain":[0.4,2.6],"nice":false},"axis":{"values":[1,2],"labelExpr":"datum.value==1?'no':'yes'","labelFontSize":17,"labelColor":"#4d4d4d","ticks":false,"tickSize":0,"labelPadding":0,"domain":false,"title":null,"grid":true,"gridColor":"#f0f0f0"}},"y":{"field":"lo","type":"quantitative","scale":{"domain":[4.515,6.368],"nice":false,"zero":false},"axis":{"values":[5,5.5,6],"format":".1f","title":null,"labelFontSize":17,"labelColor":"#4d4d4d","domain":false,"tickColor":"#666","tickSize":3,"grid":true,"gridColor":"#f0f0f0"}},"y2":{"field":"hi"}}},
{"data":{"name":"box"},"transform":[{"filter":"datum.f=='InvSimpson'"}],"mark":{"type":"rect","stroke":"#333","strokeWidth":1},"encoding":{"x":{"field":"xl","type":"quantitative"},"x2":{"field":"xr"},"y":{"field":"q1","type":"quantitative"},"y2":{"field":"q3"},"fill":{"field":"g","type":"nominal","scale":{"domain":["no","yes"],"range":["#e64b35","#4db9d6"]},"legend":{"orient":"none","legendX":247,"legendY":82,"title":"Group","titleFontSize":15,"titleFontWeight":"normal","titleFont":"Liberation Serif","labelFont":"Liberation Serif","labelFontSize":14,"symbolType":"square","symbolSize":110,"symbolStrokeColor":"#333","symbolStrokeWidth":1,"rowPadding":1,"titlePadding":2,"labelOffset":5}}}},
{"data":{"name":"box"},"transform":[{"filter":"datum.f=='InvSimpson'"}],"mark":{"type":"rule","color":"#111","strokeWidth":2},"encoding":{"x":{"field":"xl","type":"quantitative"},"x2":{"field":"xr"},"y":{"field":"med","type":"quantitative"}}},
{"data":{"name":"pts"},"transform":[{"filter":"datum.f=='InvSimpson'"}],"mark":{"type":"point","filled":true,"color":"#000","size":14,"opacity":1},"encoding":{"x":{"field":"x","type":"quantitative"},"y":{"field":"v","type":"quantitative"}}},
{"data":{"name":"brk"},"transform":[{"filter":"datum.f=='InvSimpson'"}],"mark":{"type":"line","color":"#777","strokeWidth":1.2},"encoding":{"x":{"field":"x","type":"quantitative"},"y":{"field":"v","type":"quantitative"},"order":{"field":"o"}}},
{"data":{"name":"pv"},"transform":[{"filter":"datum.f=='InvSimpson'"}],"mark":{"type":"text","fontSize":16,"color":"#222"},"encoding":{"x":{"field":"x","type":"quantitative"},"y":{"field":"v","type":"quantitative"},"text":{"field":"p"}}}]}]}]},
{"spacing":0,"bounds":"flush","resolve":{"scale":{"fill":"independent"},"legend":{"fill":"independent"}},"vconcat":[{"width":1,"height":124.4,"mark":"text"},{"spacing":0,"bounds":"flush","resolve":{"scale":{"fill":"independent"},"legend":{"fill":"independent"}},"hconcat":[{"width":719.7,"height":1,"mark":"text"},
{"width":549,"height":378,"data":{"name":"lda"},"layer":[
{"mark":{"type":"bar","stroke":"#000","strokeWidth":1},"encoding":{"x":{"field":"v","type":"quantitative","scale":{"domain":[-4.4,4.2],"nice":false,"zero":false},"axis":{"values":[-4,-2,0,2,4],"format":"d","title":"LDA SCORE (log 10)","titleFontSize":17,"titleFontWeight":"normal","titlePadding":4,"labelFontSize":17,"labelColor":"#333","ticks":false,"domain":false,"labelPadding":6}},"y":{"field":"n","type":"nominal","sort":null,"axis":null,"scale":{"paddingInner":0.15,"paddingOuter":0.7,"align":0.41}},"fill":{"field":"g","type":"nominal","scale":{"domain":["no","yes"],"range":["#ff0000","#008000"]},"legend":{"orient":"none","legendX":-20,"legendY":-36,"direction":"horizontal","title":null,"labelFont":"Liberation Serif","labelFontSize":16,"symbolType":"M-1,-0.36H1V0.36H-1Z","symbolSize":1156,"symbolStrokeColor":"#000","symbolStrokeWidth":1,"columnPadding":42,"labelOffset":12}}}},
{"transform":[{"filter":"datum.g=='yes'"}],"mark":{"type":"text","align":"right","dx":-8,"fontSize":17,"color":"#111"},"encoding":{"x":{"datum":0},"y":{"field":"n","type":"nominal","sort":null},"text":{"field":"n"}}},
{"transform":[{"filter":"datum.g=='no'"}],"mark":{"type":"text","align":"left","dx":7,"fontSize":16,"color":"#111"},"encoding":{"x":{"datum":0},"y":{"field":"n","type":"nominal","sort":null},"text":{"field":"n"}}},
{"data":{"values":[{"t":-4},{"t":-2},{"t":0},{"t":2},{"t":4}]},"mark":{"type":"rule","color":"#000","strokeWidth":1.5},"encoding":{"x":{"field":"t","type":"quantitative"}}}]}]}]},
{"spacing":0,"bounds":"flush","vconcat":[{"width":1,"height":40,"mark":"text"},{"spacing":0,"bounds":"flush","hconcat":[{"width":1498,"height":1,"mark":"text"},{"width":120,"height":20,"data":{"values":[{"t":"Cladogram"}]},"mark":{"type":"text","fontSize":16,"color":"#222"},"encoding":{"text":{"field":"t"}}}]}]},
{"spacing":0,"bounds":"flush","resolve":{"scale":{"fill":"independent"},"legend":{"fill":"independent"}},"vconcat":[{"width":1,"height":78,"mark":"text"},{"spacing":0,"bounds":"flush","resolve":{"scale":{"fill":"independent"},"legend":{"fill":"independent"}},"hconcat":[{"width":1352,"height":1,"mark":"text"},
{"width":480,"height":480,"layer":[
{"data":{"name":"sect"},"mark":{"type":"arc","opacity":0.22},"encoding":{"theta":{"field":"t1","type":"quantitative","scale":{"domain":[0,360],"range":[0,6.2832]}},"theta2":{"field":"t2"},"radius":{"field":"r1","type":"quantitative","scale":{"type":"linear","domain":[0,240],"range":[0,240]}},"radius2":{"field":"r2"},"fill":{"field":"g","type":"nominal","scale":{"domain":["no","yes"],"range":["#ff0000","#008000"]},"legend":null}}},
{"data":{"name":"rings"},"mark":{"type":"arc","fill":"#000"},"encoding":{"theta":{"field":"t1","type":"quantitative"},"theta2":{"field":"t2"},"radius":{"field":"r1","type":"quantitative"},"radius2":{"field":"r2"}}},
{"data":{"name":"edges"},"mark":{"type":"rule","color":"#000","strokeWidth":1.3},"encoding":{"x":{"field":"x","type":"quantitative","scale":{"domain":[101,1037],"nice":false,"zero":false},"axis":null},"y":{"field":"y","type":"quantitative","scale":{"domain":[204,1458],"nice":false,"zero":false,"reverse":true},"axis":null},"x2":{"field":"x2"},"y2":{"field":"y2"}}},
{"data":{"name":"thick"},"mark":{"type":"line","color":"#000","strokeWidth":3.5},"encoding":{"x":{"field":"x","type":"quantitative"},"y":{"field":"y","type":"quantitative"},"detail":{"field":"b"},"order":{"field":"o"}}},
{"data":{"name":"chain"},"mark":{"type":"line","strokeWidth":4},"encoding":{"x":{"field":"x","type":"quantitative"},"y":{"field":"y","type":"quantitative"},"detail":{"field":"b"},"stroke":{"field":"g","type":"nominal","scale":{"domain":["no","yes"],"range":["#ff0000","#008000"]},"legend":null}}},
{"data":{"name":"nodes"},"mark":{"type":"point","filled":true,"stroke":"#000","strokeWidth":1,"opacity":1},"encoding":{"x":{"field":"x","type":"quantitative"},"y":{"field":"y","type":"quantitative"},"size":{"field":"a","type":"quantitative","scale":{"domain":[1,4],"range":[35,180]},"legend":null},"fill":{"field":"g","type":"nominal","scale":{"domain":["o","no","yes"],"range":["#c4c41f","#ff0000","#008000"]},"legend":null}}},
{"data":{"name":"cl"},"mark":{"type":"text","fontSize":15,"color":"#7a1010"},"encoding":{"x":{"field":"x","type":"quantitative"},"y":{"field":"y","type":"quantitative"},"text":{"field":"t"},"angle":{"field":"rot","type":"quantitative","scale":null}}}],"resolve":{"scale":{"fill":"independent"}}}]}]},
{"spacing":0,"bounds":"flush","resolve":{"scale":{"fill":"independent"},"legend":{"fill":"independent"}},"vconcat":[{"width":1,"height":85,"mark":"text"},{"spacing":0,"bounds":"flush","resolve":{"scale":{"fill":"independent"},"legend":{"fill":"independent"}},"hconcat":[{"width":1356,"height":1,"mark":"text"},
{"width":39,"height":41,"data":{"values":[{"g":"no"},{"g":"yes"}]},"mark":"bar","encoding":{"y":{"field":"g","type":"nominal","scale":{"paddingInner":0.5,"paddingOuter":0},"axis":{"orient":"right","title":null,"domain":false,"ticks":false,"labelFontSize":15,"labelPadding":14,"labelColor":"#111"}},"fill":{"field":"g","type":"nominal","scale":{"domain":["no","yes"],"range":["#ff0000","#008000"]},"legend":null}}}]}]},
{"spacing":0,"bounds":"flush","resolve":{"scale":{"fill":"independent"},"legend":{"fill":"independent"}},"vconcat":[{"width":1,"height":72,"mark":"text"},{"spacing":0,"bounds":"flush","resolve":{"scale":{"fill":"independent"},"legend":{"fill":"independent"}},"hconcat":[{"width":1860.5,"height":1,"mark":"text"},
{"width":27.5,"height":208.4,"data":{"name":"legc"},"mark":{"type":"bar","stroke":"#000","strokeWidth":1.5},"encoding":{"y":{"field":"l","type":"nominal","sort":null,"scale":{"paddingInner":0.5,"paddingOuter":0},"axis":{"orient":"right","title":null,"domain":false,"ticks":false,"labelFontSize":17,"labelPadding":10,"labelColor":"#111","labelLimit":300}},"fill":{"field":"g","type":"nominal","scale":{"domain":["no","yes"],"range":["#ff0000","#008000"]},"legend":null}}}]}]},
{"spacing":0,"bounds":"flush","vconcat":[{"width":1,"height":634.4,"mark":"text"},{"spacing":0,"bounds":"flush","hconcat":[{"width":226.4,"height":1,"mark":"text"},
{"width":548,"height":22.4,"view":{"fill":"#e6e6e6"},"data":{"values":[{"t":"no"}]},"mark":{"type":"text","fontSize":20,"color":"#111"},"encoding":{"text":{"field":"t"}}},{"width":10.2,"height":1,"mark":"text"},
{"width":128.6,"height":22.4,"view":{"fill":"#e6e6e6"},"data":{"values":[{"t":"yes"}]},"mark":{"type":"text","fontSize":20,"color":"#111"},"encoding":{"text":{"field":"t"}}}]}]},
{"spacing":0,"bounds":"flush","resolve":{"scale":{"fill":"independent"},"legend":{"fill":"independent"}},"vconcat":[{"width":1,"height":659,"mark":"text"},{"spacing":0,"bounds":"flush","resolve":{"scale":{"fill":"independent"},"legend":{"fill":"independent"}},"hconcat":[{"width":226.4,"height":1,"mark":"text"},
{"width":548,"height":577,"data":{"name":"hm"},"transform":[{"filter":"datum.c<30"},{"lookup":"r","from":{"data":{"name":"taxa"},"key":"r","fields":["t"]}}],"mark":"rect","encoding":{"x":{"field":"c","type":"ordinal","scale":{"paddingInner":0,"paddingOuter":0},"axis":{"labels":false,"ticks":false,"title":null,"domainColor":"#333","domainWidth":2}},"y":{"field":"t","type":"nominal","scale":{"domain":["Pseudomonas","Salmonella","Haemophilus","Rhodopseudomonas","Streptococcus","Variovorax","Klebsiella","Stenotrophomonas","Escherichia","Ensifer","Lactobacillus","Neisseria","Bartonella","Dichelobacter","Vibrio","Yersinia","Bradyrhizobium","Achromobacter","Candidatus Carsonella","Acinetobacter","Pedobacter","Photobacterium","Aeromonas","Aminobacter","Brucella","Sphingomonas","Methylobacterium","Mesorhizobium","Aggregatibacter","Sphingobium","Alteromonas","Enterobacter","Azotobacter","Veillonella","Ralstonia","Methylocaldum","Agrobacterium","Edwardsiella","Colwellia","Bacteroides"],"paddingInner":0,"paddingOuter":0},"axis":{"title":null,"labelFontSize":18.5,"labelColor":"#4d4d4d","labelPadding":8,"domainColor":"#333","domainWidth":1.5,"tickColor":"#333","tickSize":5}},"fill":{"field":"v","type":"quantitative","scale":{"type":"log","domain":[0.0078,0.012,0.02,0.05,0.1,0.2,0.4,1,2.5,5,10,25,66],"range":["#00008b","#3a4a9f","#4575b4","#74add1","#abd9e9","#d4ecf3","#eef8e8","#ffffbf","#fee090","#fdae61","#f46d43","#d73027","#a50026"],"interpolate":"rgb"},"legend":null}}},{"width":10.2,"height":1,"mark":"text"},
{"width":128.6,"height":577,"data":{"name":"hm"},"transform":[{"filter":"datum.c>=30"},{"lookup":"r","from":{"data":{"name":"taxa"},"key":"r","fields":["t"]}}],"mark":"rect","encoding":{"x":{"field":"c","type":"ordinal","scale":{"paddingInner":0,"paddingOuter":0},"axis":{"labels":false,"ticks":false,"title":null,"domainColor":"#333","domainWidth":2}},"y":{"field":"t","type":"nominal","scale":{"domain":["Pseudomonas","Salmonella","Haemophilus","Rhodopseudomonas","Streptococcus","Variovorax","Klebsiella","Stenotrophomonas","Escherichia","Ensifer","Lactobacillus","Neisseria","Bartonella","Dichelobacter","Vibrio","Yersinia","Bradyrhizobium","Achromobacter","Candidatus Carsonella","Acinetobacter","Pedobacter","Photobacterium","Aeromonas","Aminobacter","Brucella","Sphingomonas","Methylobacterium","Mesorhizobium","Aggregatibacter","Sphingobium","Alteromonas","Enterobacter","Azotobacter","Veillonella","Ralstonia","Methylocaldum","Agrobacterium","Edwardsiella","Colwellia","Bacteroides"],"paddingInner":0,"paddingOuter":0},"axis":null},"fill":{"field":"v","type":"quantitative","scale":{"type":"log","domain":[0.0078,0.012,0.02,0.05,0.1,0.2,0.4,1,2.5,5,10,25,66],"range":["#00008b","#3a4a9f","#4575b4","#74add1","#abd9e9","#d4ecf3","#eef8e8","#ffffbf","#fee090","#fdae61","#f46d43","#d73027","#a50026"],"interpolate":"rgb"},"legend":{"orient":"none","legendX":151,"legendY":193,"title":["% Relative","Abundance"],"titleFontSize":21,"titleFontWeight":"normal","titleFont":"Liberation Serif","titleLineHeight":30,"titleColor":"#111","titleLimit":200,"labelFont":"Liberation Serif","labelFontSize":22,"labelColor":"#111","values":[0.01,0.1,1,10],"format":".2f","gradientLength":111,"gradientThickness":22,"labelOffset":8,"gradientStrokeWidth":0}}}}]}]},
{"spacing":0,"bounds":"flush","vconcat":[{"width":1,"height":666,"mark":"text"},{"spacing":0,"bounds":"flush","hconcat":[{"width":1763.5,"height":1,"mark":"text"},{"width":1.5,"height":8,"view":{"fill":"#888"},"mark":"text"}]}]},
{"spacing":0,"bounds":"flush","resolve":{"scale":{"fill":"independent"},"legend":{"fill":"independent"}},"vconcat":[{"width":1,"height":674,"mark":"text"},{"spacing":0,"bounds":"flush","resolve":{"scale":{"fill":"independent"},"legend":{"fill":"independent"}},"hconcat":[{"width":1540,"height":1,"mark":"text"},
{"width":165,"height":513,"layer":[
{"data":{"name":"erow"},"transform":[{"filter":"datum.i%2==0"}],"mark":{"type":"bar","color":"#e6e6e6"},"encoding":{"y":{"field":"n","type":"nominal","sort":null,"scale":{"domain":["Genetic Information Processing | Translation","Genetic Information Processing | Replication and R...","Metabolism | Energy Metabolism","Metabolism | Xenobiotics Biodegradation and Metabo...","Human Diseases | Infectious Diseases","Metabolism | Lipid Metabolism","Cellular Processes | Cell Growth and Death","Metabolism | Metabolism of Cofactors and Vitamins","Metabolism | Biosynthesis of Other Secondary Metab...","Genetic Information Processing | Transcription","Organismal Systems | Endocrine System","Cellular Processes | Transport and Catabolism","Organismal Systems | Nervous System","Organismal Systems | Digestive System","Human Diseases | Cancers","Organismal Systems | Immune System","Human Diseases | Endocrine and Metabolic Diseases","Human Diseases | Neurodegenerative Diseases","Human Diseases | Substance Dependence","Organismal Systems | Environmental Adaptation","Human Diseases | Cardiovascular Diseases","Human Diseases | Immune Diseases","Organismal Systems | Excretory System","Organismal Systems | Circulatory System","Cellular Processes | Cell Communication","Environmental Information Processing | Signaling M...","Organismal Systems | Sensory System"],"paddingInner":0,"paddingOuter":0},"axis":{"title":null,"labelFont":"DejaVu Sans Condensed","labelFontSize":16.4,"labelColor":"#111","labelLimit":400,"domain":false,"ticks":false,"labelPadding":4}}}},
{"data":{"name":"ebar"},"mark":{"type":"bar","stroke":"#000","strokeWidth":1},"encoding":{"x":{"field":"v","type":"quantitative","scale":{"domain":[0,7.37],"nice":false},"axis":{"values":[0,7],"format":".1f","title":"Mean proportion (%)","titleFont":"DejaVu Sans Condensed","titleFontSize":16,"titleFontWeight":"normal","titlePadding":9,"labelFont":"DejaVu Sans Condensed","labelFontSize":16,"tickColor":"#666","tickSize":8,"domainColor":"#888","labelPadding":6}},"y":{"field":"n","type":"nominal","sort":null},"yOffset":{"field":"g","type":"nominal","scale":{"domain":["no","yes"],"paddingInner":0,"paddingOuter":0.67}},"fill":{"field":"g","type":"nominal","scale":{"domain":["no","yes"],"range":["#7cb0da","#ffb866"]},"legend":{"orient":"none","legendX":-406,"legendY":-34,"direction":"horizontal","title":null,"labelFont":"DejaVu Sans Condensed","labelFontSize":16,"symbolType":"M-1,-0.37H1V0.37H-1Z","symbolSize":900,"symbolStrokeColor":"#000","symbolStrokeWidth":1,"columnPadding":40,"labelOffset":12}}}}]},
{"width":33,"height":1,"mark":"text"},
{"width":207,"height":513,"title":{"text":"95% confidence intervals","font":"DejaVu Sans Condensed","fontSize":16.3,"fontWeight":"normal","offset":14},"layer":[
{"data":{"name":"erow"},"transform":[{"filter":"datum.i%2==0"}],"mark":{"type":"bar","color":"#e6e6e6"},"encoding":{"y":{"field":"n","type":"nominal","sort":null,"scale":{"domain":["Genetic Information Processing | Translation","Genetic Information Processing | Replication and R...","Metabolism | Energy Metabolism","Metabolism | Xenobiotics Biodegradation and Metabo...","Human Diseases | Infectious Diseases","Metabolism | Lipid Metabolism","Cellular Processes | Cell Growth and Death","Metabolism | Metabolism of Cofactors and Vitamins","Metabolism | Biosynthesis of Other Secondary Metab...","Genetic Information Processing | Transcription","Organismal Systems | Endocrine System","Cellular Processes | Transport and Catabolism","Organismal Systems | Nervous System","Organismal Systems | Digestive System","Human Diseases | Cancers","Organismal Systems | Immune System","Human Diseases | Endocrine and Metabolic Diseases","Human Diseases | Neurodegenerative Diseases","Human Diseases | Substance Dependence","Organismal Systems | Environmental Adaptation","Human Diseases | Cardiovascular Diseases","Human Diseases | Immune Diseases","Organismal Systems | Excretory System","Organismal Systems | Circulatory System","Cellular Processes | Cell Communication","Environmental Information Processing | Signaling M...","Organismal Systems | Sensory System"],"paddingInner":0,"paddingOuter":0},"axis":{"orient":"right","title":"p-value (corrected)","titleFont":"DejaVu Sans","titleFontSize":17,"titleFontWeight":"normal","titlePadding":6,"labelExpr":"'< 1e-15'","labelFont":"DejaVu Sans Condensed","labelFontSize":15,"labelColor":"#111","domain":false,"ticks":false,"labelPadding":8}}}},
{"data":{"values":[{"z":0}]},"mark":{"type":"rule","color":"#888","strokeWidth":1.5},"encoding":{"x":{"field":"z","type":"quantitative"}}},
{"data":{"name":"erow"},"mark":{"type":"rule","color":"#111","strokeWidth":2},"encoding":{"x":{"datum":-1},"x2":{"datum":7},"y":{"field":"n","type":"nominal","sort":null}}},
{"data":{"name":"erow"},"mark":{"type":"point","filled":true,"stroke":"#555","strokeWidth":1,"size":130,"opacity":1},"encoding":{"x":{"field":"d","type":"quantitative","scale":{"domain":[-1,7],"nice":false,"zero":false},"axis":{"values":[-1,0,1,2,3,4,5,6,7],"format":"d","labelOverlap":false,"title":"Difference in mean proportions (%)","titleFont":"DejaVu Sans Condensed","titleFontSize":16,"titleFontWeight":"normal","titlePadding":9,"labelFont":"DejaVu Sans Condensed","labelFontSize":16,"tickColor":"#666","tickSize":8,"domainColor":"#888","labelPadding":6}},"y":{"field":"n","type":"nominal","sort":null},"fill":{"field":"g","type":"nominal","scale":{"domain":["no","yes"],"range":["#7cb0da","#ffb866"]},"legend":null}}}]}]}]}
]}
